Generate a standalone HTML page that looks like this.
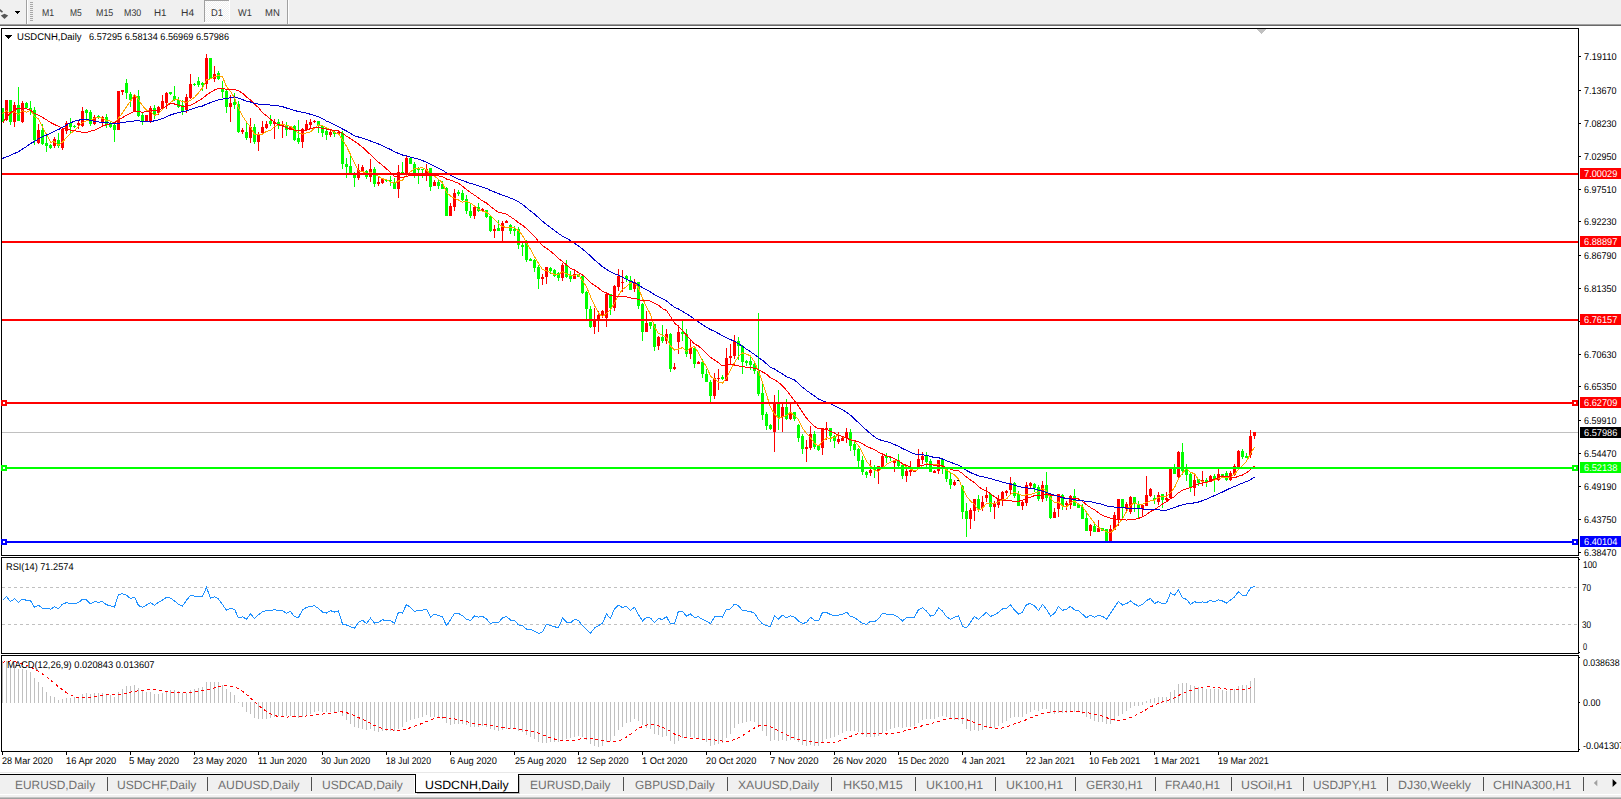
<!DOCTYPE html>
<html><head><meta charset="utf-8"><title>USDCNH,Daily</title><style>
html,body{margin:0;padding:0;background:#fff;}
#root{position:relative;width:1621px;height:799px;overflow:hidden;background:#fff;font-family:"Liberation Sans",sans-serif;}
#root svg{position:absolute;left:0;top:0;}
#root div{position:absolute;white-space:nowrap;line-height:1;transform-origin:0 0;}
.ax{font-size:9.8px;color:#000;height:11px;line-height:11px !important;}
.ttl{font-size:9.8px;color:#000;}
.tb{font-size:9.8px;color:#363636;line-height:12px !important;}
.tab{font-size:12px;color:#707070;line-height:14px !important;}
.tab.act{color:#000;}
</style></head>
<body><div id="root">
<svg width="1621" height="799" viewBox="0 0 1621 799" shape-rendering="crispEdges">
<defs>
<pattern id="dt" width="2" height="2" patternUnits="userSpaceOnUse"><rect width="2" height="2" fill="#f0f0f0"/><rect width="1" height="1" fill="#fff"/><rect x="1" y="1" width="1" height="1" fill="#fff"/></pattern>
<clipPath id="cm"><rect x="2" y="29" width="1576" height="526"/></clipPath>
<clipPath id="cr"><rect x="2" y="558" width="1576" height="95"/></clipPath>
<clipPath id="cd"><rect x="2" y="656" width="1576" height="95"/></clipPath>
</defs>
<g clip-path="url(#cm)">
<rect x="2" y="432" width="1576" height="1" fill="#c0c0c0"/><rect x="2" y="108" width="1" height="14" fill="#00ff00"/><rect x="1" y="108" width="3" height="14" fill="#00ff00"/><rect x="6" y="100" width="1" height="21" fill="#ff0000"/><rect x="5" y="100" width="3" height="20" fill="#ff0000"/><rect x="10" y="100" width="1" height="25" fill="#00ff00"/><rect x="9" y="100" width="3" height="22" fill="#00ff00"/><rect x="14" y="102" width="1" height="25" fill="#ff0000"/><rect x="13" y="105" width="3" height="17" fill="#ff0000"/><rect x="18" y="87" width="1" height="34" fill="#00ff00"/><rect x="17" y="105" width="3" height="16" fill="#00ff00"/><rect x="22" y="101" width="1" height="22" fill="#ff0000"/><rect x="21" y="103" width="3" height="19" fill="#ff0000"/><rect x="26" y="102" width="1" height="7" fill="#00ff00"/><rect x="25" y="103" width="3" height="5" fill="#00ff00"/><rect x="30" y="101" width="1" height="14" fill="#00ff00"/><rect x="29" y="108" width="3" height="2" fill="#00ff00"/><rect x="34" y="107" width="1" height="38" fill="#00ff00"/><rect x="33" y="110" width="3" height="30" fill="#00ff00"/><rect x="38" y="124" width="1" height="20" fill="#ff0000"/><rect x="37" y="130" width="3" height="13" fill="#ff0000"/><rect x="42" y="124" width="1" height="21" fill="#00ff00"/><rect x="41" y="130" width="3" height="14" fill="#00ff00"/><rect x="46" y="136" width="1" height="16" fill="#00ff00"/><rect x="45" y="143" width="3" height="3" fill="#00ff00"/><rect x="50" y="144" width="1" height="5" fill="#00ff00"/><rect x="49" y="145" width="3" height="3" fill="#00ff00"/><rect x="54" y="137" width="1" height="11" fill="#ff0000"/><rect x="53" y="139" width="3" height="7" fill="#ff0000"/><rect x="58" y="133" width="1" height="15" fill="#00ff00"/><rect x="57" y="140" width="3" height="6" fill="#00ff00"/><rect x="62" y="128" width="1" height="22" fill="#ff0000"/><rect x="61" y="129" width="3" height="19" fill="#ff0000"/><rect x="66" y="121" width="1" height="13" fill="#ff0000"/><rect x="65" y="123" width="3" height="8" fill="#ff0000"/><rect x="70" y="118" width="1" height="15" fill="#00ff00"/><rect x="69" y="123" width="3" height="4" fill="#00ff00"/><rect x="74" y="125" width="1" height="3" fill="#00ff00"/><rect x="73" y="126" width="3" height="1" fill="#00ff00"/><rect x="78" y="121" width="1" height="8" fill="#ff0000"/><rect x="77" y="123" width="3" height="2" fill="#ff0000"/><rect x="82" y="107" width="1" height="20" fill="#ff0000"/><rect x="81" y="111" width="3" height="15" fill="#ff0000"/><rect x="86" y="109" width="1" height="10" fill="#00ff00"/><rect x="85" y="110" width="3" height="3" fill="#00ff00"/><rect x="90" y="110" width="1" height="16" fill="#00ff00"/><rect x="89" y="112" width="3" height="12" fill="#00ff00"/><rect x="94" y="115" width="1" height="10" fill="#ff0000"/><rect x="93" y="117" width="3" height="7" fill="#ff0000"/><rect x="98" y="115" width="1" height="4" fill="#00ff00"/><rect x="97" y="116" width="3" height="2" fill="#00ff00"/><rect x="102" y="116" width="1" height="11" fill="#ff0000"/><rect x="101" y="117" width="3" height="6" fill="#ff0000"/><rect x="106" y="114" width="1" height="14" fill="#00ff00"/><rect x="105" y="117" width="3" height="7" fill="#00ff00"/><rect x="110" y="121" width="1" height="7" fill="#00ff00"/><rect x="109" y="123" width="3" height="4" fill="#00ff00"/><rect x="114" y="124" width="1" height="18" fill="#00ff00"/><rect x="113" y="125" width="3" height="5" fill="#00ff00"/><rect x="118" y="91" width="1" height="39" fill="#ff0000"/><rect x="117" y="91" width="3" height="39" fill="#ff0000"/><rect x="122" y="90" width="1" height="5" fill="#ff0000"/><rect x="121" y="90" width="3" height="2" fill="#ff0000"/><rect x="126" y="79" width="1" height="20" fill="#00ff00"/><rect x="125" y="83" width="3" height="10" fill="#00ff00"/><rect x="130" y="92" width="1" height="15" fill="#00ff00"/><rect x="129" y="94" width="3" height="6" fill="#00ff00"/><rect x="134" y="94" width="1" height="18" fill="#ff0000"/><rect x="133" y="96" width="3" height="15" fill="#ff0000"/><rect x="138" y="90" width="1" height="27" fill="#00ff00"/><rect x="137" y="96" width="3" height="20" fill="#00ff00"/><rect x="142" y="113" width="1" height="12" fill="#00ff00"/><rect x="141" y="115" width="3" height="6" fill="#00ff00"/><rect x="146" y="115" width="1" height="7" fill="#ff0000"/><rect x="145" y="115" width="3" height="7" fill="#ff0000"/><rect x="150" y="106" width="1" height="17" fill="#ff0000"/><rect x="149" y="108" width="3" height="14" fill="#ff0000"/><rect x="154" y="105" width="1" height="14" fill="#00ff00"/><rect x="153" y="108" width="3" height="7" fill="#00ff00"/><rect x="158" y="106" width="1" height="9" fill="#ff0000"/><rect x="157" y="107" width="3" height="6" fill="#ff0000"/><rect x="162" y="95" width="1" height="14" fill="#ff0000"/><rect x="161" y="101" width="3" height="7" fill="#ff0000"/><rect x="166" y="92" width="1" height="17" fill="#ff0000"/><rect x="165" y="93" width="3" height="10" fill="#ff0000"/><rect x="170" y="92" width="1" height="3" fill="#00ff00"/><rect x="169" y="92" width="3" height="2" fill="#00ff00"/><rect x="174" y="86" width="1" height="15" fill="#00ff00"/><rect x="173" y="96" width="3" height="4" fill="#00ff00"/><rect x="178" y="97" width="1" height="11" fill="#00ff00"/><rect x="177" y="100" width="3" height="7" fill="#00ff00"/><rect x="182" y="100" width="1" height="15" fill="#00ff00"/><rect x="181" y="105" width="3" height="6" fill="#00ff00"/><rect x="186" y="94" width="1" height="19" fill="#ff0000"/><rect x="185" y="97" width="3" height="13" fill="#ff0000"/><rect x="190" y="74" width="1" height="25" fill="#ff0000"/><rect x="189" y="84" width="3" height="14" fill="#ff0000"/><rect x="194" y="83" width="1" height="3" fill="#00ff00"/><rect x="193" y="84" width="3" height="1" fill="#00ff00"/><rect x="198" y="77" width="1" height="10" fill="#00ff00"/><rect x="197" y="81" width="3" height="4" fill="#00ff00"/><rect x="202" y="82" width="1" height="9" fill="#00ff00"/><rect x="201" y="83" width="3" height="2" fill="#00ff00"/><rect x="206" y="54" width="1" height="35" fill="#ff0000"/><rect x="205" y="58" width="3" height="26" fill="#ff0000"/><rect x="210" y="58" width="1" height="21" fill="#00ff00"/><rect x="209" y="58" width="3" height="21" fill="#00ff00"/><rect x="214" y="66" width="1" height="16" fill="#ff0000"/><rect x="213" y="74" width="3" height="5" fill="#ff0000"/><rect x="218" y="71" width="1" height="9" fill="#00ff00"/><rect x="217" y="73" width="3" height="6" fill="#00ff00"/><rect x="222" y="81" width="1" height="17" fill="#00ff00"/><rect x="221" y="89" width="3" height="3" fill="#00ff00"/><rect x="226" y="90" width="1" height="23" fill="#00ff00"/><rect x="225" y="91" width="3" height="16" fill="#00ff00"/><rect x="230" y="95" width="1" height="27" fill="#ff0000"/><rect x="229" y="103" width="3" height="4" fill="#ff0000"/><rect x="234" y="93" width="1" height="16" fill="#00ff00"/><rect x="233" y="102" width="3" height="3" fill="#00ff00"/><rect x="238" y="101" width="1" height="32" fill="#00ff00"/><rect x="237" y="104" width="3" height="28" fill="#00ff00"/><rect x="242" y="128" width="1" height="6" fill="#ff0000"/><rect x="241" y="130" width="3" height="2" fill="#ff0000"/><rect x="246" y="122" width="1" height="18" fill="#00ff00"/><rect x="245" y="132" width="3" height="6" fill="#00ff00"/><rect x="250" y="118" width="1" height="25" fill="#ff0000"/><rect x="249" y="127" width="3" height="11" fill="#ff0000"/><rect x="254" y="124" width="1" height="20" fill="#00ff00"/><rect x="253" y="127" width="3" height="15" fill="#00ff00"/><rect x="258" y="132" width="1" height="19" fill="#ff0000"/><rect x="257" y="134" width="3" height="8" fill="#ff0000"/><rect x="262" y="121" width="1" height="14" fill="#ff0000"/><rect x="261" y="127" width="3" height="6" fill="#ff0000"/><rect x="266" y="121" width="1" height="8" fill="#ff0000"/><rect x="265" y="124" width="3" height="4" fill="#ff0000"/><rect x="270" y="115" width="1" height="11" fill="#00ff00"/><rect x="269" y="121" width="3" height="3" fill="#00ff00"/><rect x="274" y="119" width="1" height="20" fill="#ff0000"/><rect x="273" y="122" width="3" height="2" fill="#ff0000"/><rect x="278" y="119" width="1" height="10" fill="#00ff00"/><rect x="277" y="122" width="3" height="2" fill="#00ff00"/><rect x="282" y="121" width="1" height="17" fill="#ff0000"/><rect x="281" y="125" width="3" height="1" fill="#ff0000"/><rect x="286" y="122" width="1" height="14" fill="#00ff00"/><rect x="285" y="125" width="3" height="5" fill="#00ff00"/><rect x="290" y="126" width="1" height="4" fill="#ff0000"/><rect x="289" y="127" width="3" height="3" fill="#ff0000"/><rect x="294" y="125" width="1" height="16" fill="#00ff00"/><rect x="293" y="126" width="3" height="14" fill="#00ff00"/><rect x="298" y="120" width="1" height="24" fill="#00ff00"/><rect x="297" y="138" width="3" height="4" fill="#00ff00"/><rect x="302" y="128" width="1" height="20" fill="#ff0000"/><rect x="301" y="129" width="3" height="13" fill="#ff0000"/><rect x="306" y="120" width="1" height="11" fill="#ff0000"/><rect x="305" y="124" width="3" height="6" fill="#ff0000"/><rect x="310" y="119" width="1" height="9" fill="#ff0000"/><rect x="309" y="122" width="3" height="3" fill="#ff0000"/><rect x="314" y="120" width="1" height="3" fill="#ff0000"/><rect x="313" y="121" width="3" height="1" fill="#ff0000"/><rect x="318" y="121" width="1" height="12" fill="#00ff00"/><rect x="317" y="121" width="3" height="5" fill="#00ff00"/><rect x="322" y="125" width="1" height="12" fill="#00ff00"/><rect x="321" y="126" width="3" height="7" fill="#00ff00"/><rect x="326" y="128" width="1" height="12" fill="#00ff00"/><rect x="325" y="131" width="3" height="4" fill="#00ff00"/><rect x="330" y="130" width="1" height="7" fill="#ff0000"/><rect x="329" y="132" width="3" height="3" fill="#ff0000"/><rect x="334" y="131" width="1" height="6" fill="#00ff00"/><rect x="333" y="132" width="3" height="2" fill="#00ff00"/><rect x="338" y="132" width="1" height="3" fill="#ff0000"/><rect x="337" y="132" width="3" height="2" fill="#ff0000"/><rect x="342" y="131" width="1" height="38" fill="#00ff00"/><rect x="341" y="133" width="3" height="31" fill="#00ff00"/><rect x="346" y="158" width="1" height="20" fill="#00ff00"/><rect x="345" y="164" width="3" height="3" fill="#00ff00"/><rect x="350" y="156" width="1" height="18" fill="#00ff00"/><rect x="349" y="166" width="3" height="7" fill="#00ff00"/><rect x="354" y="172" width="1" height="15" fill="#00ff00"/><rect x="353" y="175" width="3" height="3" fill="#00ff00"/><rect x="358" y="164" width="1" height="16" fill="#ff0000"/><rect x="357" y="170" width="3" height="8" fill="#ff0000"/><rect x="362" y="165" width="1" height="7" fill="#ff0000"/><rect x="361" y="167" width="3" height="4" fill="#ff0000"/><rect x="366" y="170" width="1" height="9" fill="#00ff00"/><rect x="365" y="171" width="3" height="6" fill="#00ff00"/><rect x="370" y="159" width="1" height="23" fill="#ff0000"/><rect x="369" y="169" width="3" height="8" fill="#ff0000"/><rect x="374" y="167" width="1" height="20" fill="#00ff00"/><rect x="373" y="169" width="3" height="15" fill="#00ff00"/><rect x="378" y="176" width="1" height="10" fill="#ff0000"/><rect x="377" y="182" width="3" height="2" fill="#ff0000"/><rect x="382" y="178" width="1" height="6" fill="#ff0000"/><rect x="381" y="179" width="3" height="4" fill="#ff0000"/><rect x="386" y="179" width="1" height="3" fill="#00ff00"/><rect x="385" y="180" width="3" height="1" fill="#00ff00"/><rect x="390" y="176" width="1" height="10" fill="#00ff00"/><rect x="389" y="180" width="3" height="1" fill="#00ff00"/><rect x="394" y="178" width="1" height="11" fill="#00ff00"/><rect x="393" y="183" width="3" height="6" fill="#00ff00"/><rect x="398" y="165" width="1" height="33" fill="#ff0000"/><rect x="397" y="172" width="3" height="17" fill="#ff0000"/><rect x="402" y="162" width="1" height="13" fill="#00ff00"/><rect x="401" y="172" width="3" height="2" fill="#00ff00"/><rect x="406" y="156" width="1" height="19" fill="#ff0000"/><rect x="405" y="158" width="3" height="16" fill="#ff0000"/><rect x="410" y="158" width="1" height="6" fill="#00ff00"/><rect x="409" y="158" width="3" height="6" fill="#00ff00"/><rect x="414" y="162" width="1" height="16" fill="#00ff00"/><rect x="413" y="164" width="3" height="9" fill="#00ff00"/><rect x="418" y="167" width="1" height="17" fill="#00ff00"/><rect x="417" y="169" width="3" height="1" fill="#00ff00"/><rect x="422" y="169" width="1" height="9" fill="#00ff00"/><rect x="421" y="169" width="3" height="1" fill="#00ff00"/><rect x="426" y="164" width="1" height="17" fill="#ff0000"/><rect x="425" y="169" width="3" height="4" fill="#ff0000"/><rect x="430" y="168" width="1" height="23" fill="#00ff00"/><rect x="429" y="168" width="3" height="19" fill="#00ff00"/><rect x="434" y="180" width="1" height="6" fill="#ff0000"/><rect x="433" y="182" width="3" height="4" fill="#ff0000"/><rect x="438" y="179" width="1" height="10" fill="#00ff00"/><rect x="437" y="182" width="3" height="4" fill="#00ff00"/><rect x="442" y="181" width="1" height="8" fill="#00ff00"/><rect x="441" y="184" width="3" height="5" fill="#00ff00"/><rect x="446" y="187" width="1" height="29" fill="#00ff00"/><rect x="445" y="188" width="3" height="28" fill="#00ff00"/><rect x="450" y="203" width="1" height="13" fill="#ff0000"/><rect x="449" y="206" width="3" height="10" fill="#ff0000"/><rect x="454" y="189" width="1" height="22" fill="#ff0000"/><rect x="453" y="193" width="3" height="14" fill="#ff0000"/><rect x="458" y="190" width="1" height="6" fill="#00ff00"/><rect x="457" y="192" width="3" height="2" fill="#00ff00"/><rect x="462" y="190" width="1" height="11" fill="#00ff00"/><rect x="461" y="193" width="3" height="7" fill="#00ff00"/><rect x="466" y="195" width="1" height="19" fill="#00ff00"/><rect x="465" y="199" width="3" height="12" fill="#00ff00"/><rect x="470" y="203" width="1" height="15" fill="#00ff00"/><rect x="469" y="211" width="3" height="5" fill="#00ff00"/><rect x="474" y="206" width="1" height="13" fill="#ff0000"/><rect x="473" y="207" width="3" height="9" fill="#ff0000"/><rect x="478" y="203" width="1" height="9" fill="#00ff00"/><rect x="477" y="207" width="3" height="4" fill="#00ff00"/><rect x="482" y="208" width="1" height="3" fill="#ff0000"/><rect x="481" y="209" width="3" height="2" fill="#ff0000"/><rect x="486" y="210" width="1" height="8" fill="#00ff00"/><rect x="485" y="210" width="3" height="7" fill="#00ff00"/><rect x="490" y="216" width="1" height="16" fill="#00ff00"/><rect x="489" y="216" width="3" height="15" fill="#00ff00"/><rect x="494" y="225" width="1" height="13" fill="#ff0000"/><rect x="493" y="229" width="3" height="2" fill="#ff0000"/><rect x="498" y="220" width="1" height="11" fill="#00ff00"/><rect x="497" y="228" width="3" height="3" fill="#00ff00"/><rect x="502" y="221" width="1" height="20" fill="#ff0000"/><rect x="501" y="223" width="3" height="8" fill="#ff0000"/><rect x="506" y="220" width="1" height="3" fill="#ff0000"/><rect x="505" y="221" width="3" height="2" fill="#ff0000"/><rect x="510" y="224" width="1" height="10" fill="#00ff00"/><rect x="509" y="225" width="3" height="6" fill="#00ff00"/><rect x="514" y="226" width="1" height="10" fill="#00ff00"/><rect x="513" y="229" width="3" height="2" fill="#00ff00"/><rect x="518" y="227" width="1" height="22" fill="#00ff00"/><rect x="517" y="229" width="3" height="16" fill="#00ff00"/><rect x="522" y="243" width="1" height="13" fill="#00ff00"/><rect x="521" y="245" width="3" height="2" fill="#00ff00"/><rect x="526" y="240" width="1" height="22" fill="#00ff00"/><rect x="525" y="242" width="3" height="18" fill="#00ff00"/><rect x="530" y="258" width="1" height="3" fill="#00ff00"/><rect x="529" y="259" width="3" height="2" fill="#00ff00"/><rect x="534" y="259" width="1" height="13" fill="#00ff00"/><rect x="533" y="260" width="3" height="8" fill="#00ff00"/><rect x="538" y="265" width="1" height="24" fill="#00ff00"/><rect x="537" y="267" width="3" height="12" fill="#00ff00"/><rect x="542" y="274" width="1" height="11" fill="#ff0000"/><rect x="541" y="277" width="3" height="2" fill="#ff0000"/><rect x="546" y="267" width="1" height="17" fill="#ff0000"/><rect x="545" y="267" width="3" height="10" fill="#ff0000"/><rect x="550" y="267" width="1" height="7" fill="#00ff00"/><rect x="549" y="268" width="3" height="3" fill="#00ff00"/><rect x="554" y="269" width="1" height="8" fill="#00ff00"/><rect x="553" y="270" width="3" height="6" fill="#00ff00"/><rect x="558" y="272" width="1" height="9" fill="#00ff00"/><rect x="557" y="273" width="3" height="5" fill="#00ff00"/><rect x="562" y="263" width="1" height="18" fill="#ff0000"/><rect x="561" y="265" width="3" height="13" fill="#ff0000"/><rect x="566" y="260" width="1" height="18" fill="#00ff00"/><rect x="565" y="265" width="3" height="12" fill="#00ff00"/><rect x="570" y="271" width="1" height="11" fill="#00ff00"/><rect x="569" y="276" width="3" height="3" fill="#00ff00"/><rect x="574" y="269" width="1" height="10" fill="#ff0000"/><rect x="573" y="274" width="3" height="5" fill="#ff0000"/><rect x="578" y="274" width="1" height="3" fill="#00ff00"/><rect x="577" y="274" width="3" height="3" fill="#00ff00"/><rect x="582" y="275" width="1" height="19" fill="#00ff00"/><rect x="581" y="276" width="3" height="17" fill="#00ff00"/><rect x="586" y="291" width="1" height="28" fill="#00ff00"/><rect x="585" y="292" width="3" height="17" fill="#00ff00"/><rect x="590" y="306" width="1" height="22" fill="#00ff00"/><rect x="589" y="309" width="3" height="18" fill="#00ff00"/><rect x="594" y="308" width="1" height="26" fill="#ff0000"/><rect x="593" y="319" width="3" height="8" fill="#ff0000"/><rect x="598" y="311" width="1" height="21" fill="#ff0000"/><rect x="597" y="315" width="3" height="5" fill="#ff0000"/><rect x="602" y="310" width="1" height="8" fill="#ff0000"/><rect x="601" y="311" width="3" height="5" fill="#ff0000"/><rect x="606" y="292" width="1" height="35" fill="#ff0000"/><rect x="605" y="294" width="3" height="24" fill="#ff0000"/><rect x="610" y="294" width="1" height="21" fill="#00ff00"/><rect x="609" y="294" width="3" height="14" fill="#00ff00"/><rect x="614" y="285" width="1" height="26" fill="#ff0000"/><rect x="613" y="286" width="3" height="22" fill="#ff0000"/><rect x="618" y="269" width="1" height="22" fill="#ff0000"/><rect x="617" y="276" width="3" height="11" fill="#ff0000"/><rect x="622" y="270" width="1" height="22" fill="#ff0000"/><rect x="621" y="282" width="3" height="1" fill="#ff0000"/><rect x="626" y="275" width="1" height="7" fill="#00ff00"/><rect x="625" y="276" width="3" height="3" fill="#00ff00"/><rect x="630" y="276" width="1" height="14" fill="#00ff00"/><rect x="629" y="280" width="3" height="10" fill="#00ff00"/><rect x="634" y="279" width="1" height="13" fill="#ff0000"/><rect x="633" y="282" width="3" height="7" fill="#ff0000"/><rect x="638" y="282" width="1" height="27" fill="#00ff00"/><rect x="637" y="282" width="3" height="24" fill="#00ff00"/><rect x="642" y="303" width="1" height="38" fill="#00ff00"/><rect x="641" y="304" width="3" height="28" fill="#00ff00"/><rect x="646" y="311" width="1" height="21" fill="#ff0000"/><rect x="645" y="323" width="3" height="9" fill="#ff0000"/><rect x="650" y="322" width="1" height="7" fill="#00ff00"/><rect x="649" y="322" width="3" height="4" fill="#00ff00"/><rect x="654" y="324" width="1" height="27" fill="#00ff00"/><rect x="653" y="324" width="3" height="23" fill="#00ff00"/><rect x="658" y="336" width="1" height="14" fill="#ff0000"/><rect x="657" y="337" width="3" height="9" fill="#ff0000"/><rect x="662" y="325" width="1" height="18" fill="#00ff00"/><rect x="661" y="337" width="3" height="4" fill="#00ff00"/><rect x="666" y="329" width="1" height="15" fill="#ff0000"/><rect x="665" y="334" width="3" height="7" fill="#ff0000"/><rect x="670" y="333" width="1" height="39" fill="#00ff00"/><rect x="669" y="334" width="3" height="35" fill="#00ff00"/><rect x="674" y="363" width="1" height="7" fill="#ff0000"/><rect x="673" y="367" width="3" height="2" fill="#ff0000"/><rect x="678" y="325" width="1" height="29" fill="#ff0000"/><rect x="677" y="332" width="3" height="10" fill="#ff0000"/><rect x="682" y="321" width="1" height="20" fill="#00ff00"/><rect x="681" y="332" width="3" height="2" fill="#00ff00"/><rect x="686" y="329" width="1" height="28" fill="#00ff00"/><rect x="685" y="334" width="3" height="20" fill="#00ff00"/><rect x="690" y="340" width="1" height="19" fill="#ff0000"/><rect x="689" y="348" width="3" height="6" fill="#ff0000"/><rect x="694" y="347" width="1" height="21" fill="#00ff00"/><rect x="693" y="348" width="3" height="16" fill="#00ff00"/><rect x="698" y="361" width="1" height="3" fill="#ff0000"/><rect x="697" y="362" width="3" height="2" fill="#ff0000"/><rect x="702" y="359" width="1" height="19" fill="#00ff00"/><rect x="701" y="362" width="3" height="12" fill="#00ff00"/><rect x="706" y="369" width="1" height="13" fill="#00ff00"/><rect x="705" y="374" width="3" height="8" fill="#00ff00"/><rect x="710" y="380" width="1" height="22" fill="#00ff00"/><rect x="709" y="382" width="3" height="14" fill="#00ff00"/><rect x="714" y="373" width="1" height="26" fill="#ff0000"/><rect x="713" y="378" width="3" height="18" fill="#ff0000"/><rect x="718" y="369" width="1" height="21" fill="#ff0000"/><rect x="717" y="378" width="3" height="1" fill="#ff0000"/><rect x="722" y="375" width="1" height="5" fill="#00ff00"/><rect x="721" y="377" width="3" height="2" fill="#00ff00"/><rect x="726" y="348" width="1" height="33" fill="#ff0000"/><rect x="725" y="358" width="3" height="23" fill="#ff0000"/><rect x="730" y="344" width="1" height="21" fill="#ff0000"/><rect x="729" y="356" width="3" height="2" fill="#ff0000"/><rect x="734" y="335" width="1" height="24" fill="#ff0000"/><rect x="733" y="341" width="3" height="15" fill="#ff0000"/><rect x="738" y="337" width="1" height="23" fill="#00ff00"/><rect x="737" y="341" width="3" height="5" fill="#00ff00"/><rect x="742" y="345" width="1" height="29" fill="#00ff00"/><rect x="741" y="346" width="3" height="16" fill="#00ff00"/><rect x="746" y="360" width="1" height="6" fill="#00ff00"/><rect x="745" y="361" width="3" height="2" fill="#00ff00"/><rect x="750" y="356" width="1" height="14" fill="#00ff00"/><rect x="749" y="361" width="3" height="4" fill="#00ff00"/><rect x="754" y="361" width="1" height="13" fill="#00ff00"/><rect x="753" y="364" width="3" height="7" fill="#00ff00"/><rect x="758" y="313" width="1" height="83" fill="#00ff00"/><rect x="757" y="371" width="3" height="23" fill="#00ff00"/><rect x="762" y="383" width="1" height="37" fill="#00ff00"/><rect x="761" y="393" width="3" height="22" fill="#00ff00"/><rect x="766" y="412" width="1" height="18" fill="#00ff00"/><rect x="765" y="414" width="3" height="12" fill="#00ff00"/><rect x="770" y="424" width="1" height="6" fill="#00ff00"/><rect x="769" y="425" width="3" height="4" fill="#00ff00"/><rect x="774" y="395" width="1" height="57" fill="#ff0000"/><rect x="773" y="403" width="3" height="29" fill="#ff0000"/><rect x="778" y="390" width="1" height="40" fill="#00ff00"/><rect x="777" y="404" width="3" height="13" fill="#00ff00"/><rect x="782" y="404" width="1" height="28" fill="#ff0000"/><rect x="781" y="407" width="3" height="10" fill="#ff0000"/><rect x="786" y="399" width="1" height="21" fill="#00ff00"/><rect x="785" y="407" width="3" height="12" fill="#00ff00"/><rect x="790" y="404" width="1" height="16" fill="#ff0000"/><rect x="789" y="413" width="3" height="6" fill="#ff0000"/><rect x="794" y="412" width="1" height="9" fill="#00ff00"/><rect x="793" y="412" width="3" height="7" fill="#00ff00"/><rect x="798" y="424" width="1" height="18" fill="#00ff00"/><rect x="797" y="425" width="3" height="13" fill="#00ff00"/><rect x="802" y="434" width="1" height="20" fill="#00ff00"/><rect x="801" y="436" width="3" height="13" fill="#00ff00"/><rect x="806" y="440" width="1" height="22" fill="#ff0000"/><rect x="805" y="447" width="3" height="2" fill="#ff0000"/><rect x="810" y="426" width="1" height="24" fill="#ff0000"/><rect x="809" y="434" width="3" height="14" fill="#ff0000"/><rect x="814" y="431" width="1" height="18" fill="#00ff00"/><rect x="813" y="434" width="3" height="13" fill="#00ff00"/><rect x="818" y="445" width="1" height="6" fill="#00ff00"/><rect x="817" y="446" width="3" height="4" fill="#00ff00"/><rect x="822" y="428" width="1" height="27" fill="#ff0000"/><rect x="821" y="428" width="3" height="20" fill="#ff0000"/><rect x="826" y="422" width="1" height="18" fill="#ff0000"/><rect x="825" y="428" width="3" height="2" fill="#ff0000"/><rect x="830" y="428" width="1" height="14" fill="#00ff00"/><rect x="829" y="428" width="3" height="8" fill="#00ff00"/><rect x="834" y="435" width="1" height="13" fill="#00ff00"/><rect x="833" y="436" width="3" height="5" fill="#00ff00"/><rect x="838" y="432" width="1" height="12" fill="#ff0000"/><rect x="837" y="439" width="3" height="3" fill="#ff0000"/><rect x="842" y="437" width="1" height="4" fill="#ff0000"/><rect x="841" y="438" width="3" height="3" fill="#ff0000"/><rect x="846" y="428" width="1" height="15" fill="#ff0000"/><rect x="845" y="432" width="3" height="6" fill="#ff0000"/><rect x="850" y="429" width="1" height="22" fill="#00ff00"/><rect x="849" y="432" width="3" height="14" fill="#00ff00"/><rect x="854" y="442" width="1" height="14" fill="#00ff00"/><rect x="853" y="444" width="3" height="6" fill="#00ff00"/><rect x="858" y="448" width="1" height="19" fill="#00ff00"/><rect x="857" y="449" width="3" height="12" fill="#00ff00"/><rect x="862" y="456" width="1" height="19" fill="#00ff00"/><rect x="861" y="460" width="3" height="12" fill="#00ff00"/><rect x="866" y="471" width="1" height="7" fill="#00ff00"/><rect x="865" y="472" width="3" height="3" fill="#00ff00"/><rect x="870" y="460" width="1" height="16" fill="#ff0000"/><rect x="869" y="470" width="3" height="3" fill="#ff0000"/><rect x="874" y="465" width="1" height="13" fill="#00ff00"/><rect x="873" y="469" width="3" height="1" fill="#00ff00"/><rect x="878" y="466" width="1" height="18" fill="#ff0000"/><rect x="877" y="466" width="3" height="5" fill="#ff0000"/><rect x="882" y="453" width="1" height="14" fill="#ff0000"/><rect x="881" y="456" width="3" height="11" fill="#ff0000"/><rect x="886" y="453" width="1" height="10" fill="#00ff00"/><rect x="885" y="456" width="3" height="2" fill="#00ff00"/><rect x="890" y="456" width="1" height="5" fill="#00ff00"/><rect x="889" y="457" width="3" height="1" fill="#00ff00"/><rect x="894" y="460" width="1" height="12" fill="#ff0000"/><rect x="893" y="461" width="3" height="2" fill="#ff0000"/><rect x="898" y="454" width="1" height="13" fill="#00ff00"/><rect x="897" y="461" width="3" height="5" fill="#00ff00"/><rect x="902" y="463" width="1" height="16" fill="#00ff00"/><rect x="901" y="465" width="3" height="11" fill="#00ff00"/><rect x="906" y="469" width="1" height="13" fill="#ff0000"/><rect x="905" y="471" width="3" height="5" fill="#ff0000"/><rect x="910" y="461" width="1" height="15" fill="#ff0000"/><rect x="909" y="470" width="3" height="2" fill="#ff0000"/><rect x="914" y="470" width="1" height="2" fill="#ff0000"/><rect x="913" y="470" width="3" height="2" fill="#ff0000"/><rect x="918" y="449" width="1" height="18" fill="#ff0000"/><rect x="917" y="459" width="3" height="8" fill="#ff0000"/><rect x="922" y="452" width="1" height="12" fill="#ff0000"/><rect x="921" y="456" width="3" height="4" fill="#ff0000"/><rect x="926" y="452" width="1" height="17" fill="#00ff00"/><rect x="925" y="456" width="3" height="6" fill="#00ff00"/><rect x="930" y="459" width="1" height="13" fill="#00ff00"/><rect x="929" y="461" width="3" height="11" fill="#00ff00"/><rect x="934" y="470" width="1" height="3" fill="#ff0000"/><rect x="933" y="471" width="3" height="2" fill="#ff0000"/><rect x="938" y="460" width="1" height="14" fill="#ff0000"/><rect x="937" y="460" width="3" height="11" fill="#ff0000"/><rect x="942" y="459" width="1" height="15" fill="#00ff00"/><rect x="941" y="459" width="3" height="7" fill="#00ff00"/><rect x="946" y="468" width="1" height="14" fill="#00ff00"/><rect x="945" y="469" width="3" height="10" fill="#00ff00"/><rect x="950" y="472" width="1" height="17" fill="#00ff00"/><rect x="949" y="479" width="3" height="6" fill="#00ff00"/><rect x="954" y="480" width="1" height="6" fill="#ff0000"/><rect x="953" y="482" width="3" height="3" fill="#ff0000"/><rect x="958" y="480" width="1" height="1" fill="#000000"/><rect x="957" y="480" width="3" height="1" fill="#000000"/><rect x="962" y="485" width="1" height="34" fill="#00ff00"/><rect x="961" y="486" width="3" height="26" fill="#00ff00"/><rect x="966" y="503" width="1" height="34" fill="#00ff00"/><rect x="965" y="511" width="3" height="8" fill="#00ff00"/><rect x="970" y="508" width="1" height="21" fill="#ff0000"/><rect x="969" y="510" width="3" height="9" fill="#ff0000"/><rect x="974" y="499" width="1" height="22" fill="#ff0000"/><rect x="973" y="499" width="3" height="12" fill="#ff0000"/><rect x="978" y="495" width="1" height="17" fill="#00ff00"/><rect x="977" y="499" width="3" height="10" fill="#00ff00"/><rect x="982" y="496" width="1" height="15" fill="#ff0000"/><rect x="981" y="502" width="3" height="6" fill="#ff0000"/><rect x="986" y="487" width="1" height="15" fill="#ff0000"/><rect x="985" y="495" width="3" height="3" fill="#ff0000"/><rect x="990" y="493" width="1" height="19" fill="#00ff00"/><rect x="989" y="494" width="3" height="13" fill="#00ff00"/><rect x="994" y="501" width="1" height="18" fill="#ff0000"/><rect x="993" y="504" width="3" height="3" fill="#ff0000"/><rect x="998" y="495" width="1" height="13" fill="#ff0000"/><rect x="997" y="499" width="3" height="6" fill="#ff0000"/><rect x="1002" y="491" width="1" height="15" fill="#ff0000"/><rect x="1001" y="492" width="3" height="7" fill="#ff0000"/><rect x="1006" y="490" width="1" height="6" fill="#ff0000"/><rect x="1005" y="491" width="3" height="2" fill="#ff0000"/><rect x="1010" y="477" width="1" height="17" fill="#ff0000"/><rect x="1009" y="483" width="3" height="7" fill="#ff0000"/><rect x="1014" y="482" width="1" height="16" fill="#00ff00"/><rect x="1013" y="483" width="3" height="13" fill="#00ff00"/><rect x="1018" y="491" width="1" height="15" fill="#00ff00"/><rect x="1017" y="494" width="3" height="12" fill="#00ff00"/><rect x="1022" y="501" width="1" height="9" fill="#ff0000"/><rect x="1021" y="502" width="3" height="4" fill="#ff0000"/><rect x="1026" y="482" width="1" height="24" fill="#ff0000"/><rect x="1025" y="485" width="3" height="18" fill="#ff0000"/><rect x="1030" y="482" width="1" height="6" fill="#ff0000"/><rect x="1029" y="483" width="3" height="3" fill="#ff0000"/><rect x="1034" y="483" width="1" height="9" fill="#00ff00"/><rect x="1033" y="484" width="3" height="4" fill="#00ff00"/><rect x="1038" y="485" width="1" height="16" fill="#00ff00"/><rect x="1037" y="487" width="3" height="12" fill="#00ff00"/><rect x="1042" y="481" width="1" height="21" fill="#ff0000"/><rect x="1041" y="485" width="3" height="14" fill="#ff0000"/><rect x="1046" y="472" width="1" height="29" fill="#00ff00"/><rect x="1045" y="485" width="3" height="13" fill="#00ff00"/><rect x="1050" y="494" width="1" height="25" fill="#00ff00"/><rect x="1049" y="494" width="3" height="24" fill="#00ff00"/><rect x="1054" y="508" width="1" height="10" fill="#ff0000"/><rect x="1053" y="512" width="3" height="6" fill="#ff0000"/><rect x="1058" y="494" width="1" height="23" fill="#ff0000"/><rect x="1057" y="494" width="3" height="15" fill="#ff0000"/><rect x="1062" y="494" width="1" height="16" fill="#00ff00"/><rect x="1061" y="495" width="3" height="11" fill="#00ff00"/><rect x="1066" y="501" width="1" height="9" fill="#ff0000"/><rect x="1065" y="503" width="3" height="2" fill="#ff0000"/><rect x="1070" y="495" width="1" height="14" fill="#ff0000"/><rect x="1069" y="496" width="3" height="9" fill="#ff0000"/><rect x="1074" y="489" width="1" height="17" fill="#00ff00"/><rect x="1073" y="496" width="3" height="10" fill="#00ff00"/><rect x="1078" y="503" width="1" height="5" fill="#00ff00"/><rect x="1077" y="504" width="3" height="4" fill="#00ff00"/><rect x="1082" y="504" width="1" height="15" fill="#00ff00"/><rect x="1081" y="507" width="3" height="12" fill="#00ff00"/><rect x="1086" y="513" width="1" height="18" fill="#00ff00"/><rect x="1085" y="518" width="3" height="13" fill="#00ff00"/><rect x="1090" y="524" width="1" height="12" fill="#ff0000"/><rect x="1089" y="525" width="3" height="6" fill="#ff0000"/><rect x="1094" y="522" width="1" height="10" fill="#00ff00"/><rect x="1093" y="526" width="3" height="6" fill="#00ff00"/><rect x="1098" y="520" width="1" height="12" fill="#ff0000"/><rect x="1097" y="528" width="3" height="4" fill="#ff0000"/><rect x="1102" y="528" width="1" height="3" fill="#00ff00"/><rect x="1101" y="528" width="3" height="3" fill="#00ff00"/><rect x="1106" y="529" width="1" height="12" fill="#00ff00"/><rect x="1105" y="529" width="3" height="12" fill="#00ff00"/><rect x="1110" y="525" width="1" height="16" fill="#ff0000"/><rect x="1109" y="529" width="3" height="12" fill="#ff0000"/><rect x="1114" y="512" width="1" height="18" fill="#ff0000"/><rect x="1113" y="515" width="3" height="15" fill="#ff0000"/><rect x="1118" y="499" width="1" height="27" fill="#ff0000"/><rect x="1117" y="499" width="3" height="20" fill="#ff0000"/><rect x="1122" y="499" width="1" height="20" fill="#00ff00"/><rect x="1121" y="499" width="3" height="9" fill="#00ff00"/><rect x="1126" y="502" width="1" height="10" fill="#ff0000"/><rect x="1125" y="504" width="3" height="5" fill="#ff0000"/><rect x="1130" y="496" width="1" height="18" fill="#ff0000"/><rect x="1129" y="497" width="3" height="15" fill="#ff0000"/><rect x="1134" y="497" width="1" height="15" fill="#00ff00"/><rect x="1133" y="497" width="3" height="7" fill="#00ff00"/><rect x="1138" y="501" width="1" height="17" fill="#00ff00"/><rect x="1137" y="504" width="3" height="5" fill="#00ff00"/><rect x="1142" y="504" width="1" height="12" fill="#ff0000"/><rect x="1141" y="505" width="3" height="4" fill="#ff0000"/><rect x="1146" y="476" width="1" height="30" fill="#ff0000"/><rect x="1145" y="495" width="3" height="11" fill="#ff0000"/><rect x="1150" y="488" width="1" height="9" fill="#ff0000"/><rect x="1149" y="489" width="3" height="7" fill="#ff0000"/><rect x="1154" y="495" width="1" height="9" fill="#00ff00"/><rect x="1153" y="498" width="3" height="2" fill="#00ff00"/><rect x="1158" y="492" width="1" height="13" fill="#ff0000"/><rect x="1157" y="495" width="3" height="7" fill="#ff0000"/><rect x="1162" y="494" width="1" height="14" fill="#00ff00"/><rect x="1161" y="494" width="3" height="6" fill="#00ff00"/><rect x="1166" y="492" width="1" height="9" fill="#ff0000"/><rect x="1165" y="498" width="3" height="2" fill="#ff0000"/><rect x="1170" y="469" width="1" height="29" fill="#ff0000"/><rect x="1169" y="469" width="3" height="29" fill="#ff0000"/><rect x="1174" y="464" width="1" height="10" fill="#00ff00"/><rect x="1173" y="469" width="3" height="5" fill="#00ff00"/><rect x="1178" y="451" width="1" height="27" fill="#ff0000"/><rect x="1177" y="452" width="3" height="25" fill="#ff0000"/><rect x="1182" y="443" width="1" height="32" fill="#00ff00"/><rect x="1181" y="452" width="3" height="19" fill="#00ff00"/><rect x="1186" y="464" width="1" height="17" fill="#00ff00"/><rect x="1185" y="468" width="3" height="7" fill="#00ff00"/><rect x="1190" y="472" width="1" height="20" fill="#00ff00"/><rect x="1189" y="474" width="3" height="14" fill="#00ff00"/><rect x="1194" y="474" width="1" height="22" fill="#ff0000"/><rect x="1193" y="480" width="3" height="8" fill="#ff0000"/><rect x="1198" y="479" width="1" height="7" fill="#00ff00"/><rect x="1197" y="479" width="3" height="4" fill="#00ff00"/><rect x="1202" y="471" width="1" height="15" fill="#ff0000"/><rect x="1201" y="480" width="3" height="2" fill="#ff0000"/><rect x="1206" y="478" width="1" height="9" fill="#00ff00"/><rect x="1205" y="480" width="3" height="2" fill="#00ff00"/><rect x="1210" y="475" width="1" height="7" fill="#ff0000"/><rect x="1209" y="476" width="3" height="6" fill="#ff0000"/><rect x="1214" y="474" width="1" height="18" fill="#00ff00"/><rect x="1213" y="476" width="3" height="3" fill="#00ff00"/><rect x="1218" y="469" width="1" height="12" fill="#ff0000"/><rect x="1217" y="474" width="3" height="6" fill="#ff0000"/><rect x="1222" y="474" width="1" height="4" fill="#00ff00"/><rect x="1221" y="474" width="3" height="2" fill="#00ff00"/><rect x="1226" y="471" width="1" height="10" fill="#00ff00"/><rect x="1225" y="473" width="3" height="7" fill="#00ff00"/><rect x="1230" y="471" width="1" height="10" fill="#ff0000"/><rect x="1229" y="473" width="3" height="7" fill="#ff0000"/><rect x="1234" y="464" width="1" height="12" fill="#ff0000"/><rect x="1233" y="466" width="3" height="9" fill="#ff0000"/><rect x="1238" y="450" width="1" height="17" fill="#ff0000"/><rect x="1237" y="451" width="3" height="16" fill="#ff0000"/><rect x="1242" y="449" width="1" height="10" fill="#00ff00"/><rect x="1241" y="451" width="3" height="6" fill="#00ff00"/><rect x="1246" y="453" width="1" height="5" fill="#00ff00"/><rect x="1245" y="456" width="3" height="2" fill="#00ff00"/><rect x="1250" y="430" width="1" height="28" fill="#ff0000"/><rect x="1249" y="436" width="3" height="19" fill="#ff0000"/><rect x="1254" y="432" width="1" height="7" fill="#ff0000"/><rect x="1253" y="432" width="3" height="4" fill="#ff0000"/>
<polyline points="2.5,113.5 6.5,110.9 10.5,113.3 14.5,111.9 18.5,114.5 22.5,110.7 26.5,112.3 30.5,109.9 34.5,116.9 38.5,118.7 42.5,126.9 46.5,134.5 50.5,142.1 54.5,141.9 58.5,145.1 62.5,142.1 66.5,137.5 70.5,133.3 74.5,130.9 78.5,126.3 82.5,122.7 86.5,120.7 90.5,120.1 94.5,118.1 98.5,117.1 102.5,118.3 106.5,120.5 110.5,121.1 114.5,123.7 118.5,118.3 122.5,112.9 126.5,106.7 130.5,101.3 134.5,94.5 138.5,99.5 142.5,105.7 146.5,110.1 150.5,111.7 154.5,115.5 158.5,113.7 162.5,109.7 166.5,105.3 170.5,102.6 174.5,99.6 178.5,99.6 182.5,101.6 186.5,102.4 190.5,100.3 194.5,97.3 198.5,92.9 202.5,87.7 206.5,79.9 210.5,78.9 214.5,76.7 218.5,75.5 222.5,76.9 226.5,86.7 230.5,91.5 234.5,97.7 238.5,108.3 242.5,115.9 246.5,122.1 250.5,126.9 254.5,134.3 258.5,134.7 262.5,134.1 266.5,131.2 270.5,130.6 274.5,126.7 278.5,124.7 282.5,124.3 286.5,125.6 290.5,126.2 294.5,129.7 298.5,133.3 302.5,134.1 306.5,132.9 310.5,131.9 314.5,128.1 318.5,124.9 322.5,125.7 326.5,127.9 330.5,129.8 334.5,132.4 338.5,133.7 342.5,139.9 346.5,146.3 350.5,154.6 354.5,163.4 358.5,170.9 362.5,171.5 366.5,173.5 370.5,172.7 374.5,173.9 378.5,176.4 382.5,178.8 386.5,179.6 390.5,182.1 394.5,183.1 398.5,181.0 402.5,180.0 406.5,175.2 410.5,171.8 414.5,168.6 418.5,168.3 422.5,167.6 426.5,169.9 430.5,174.5 434.5,176.3 438.5,179.3 442.5,183.0 446.5,192.3 450.5,196.1 454.5,198.3 458.5,200.0 462.5,202.2 466.5,201.2 470.5,203.1 474.5,205.9 478.5,209.3 482.5,211.1 486.5,212.3 490.5,215.3 494.5,219.7 498.5,223.8 502.5,226.6 506.5,227.4 510.5,227.4 514.5,227.8 518.5,230.6 522.5,235.4 526.5,243.2 530.5,249.2 534.5,256.6 538.5,263.4 542.5,269.4 546.5,270.8 550.5,272.9 554.5,274.4 558.5,274.2 562.5,271.8 566.5,273.8 570.5,275.4 574.5,275.1 578.5,274.9 582.5,280.5 586.5,286.9 590.5,296.5 594.5,305.5 598.5,313.1 602.5,316.6 606.5,313.6 610.5,309.8 614.5,303.1 618.5,295.3 622.5,289.5 626.5,286.5 630.5,282.9 634.5,282.3 638.5,288.3 642.5,298.3 646.5,307.1 650.5,314.3 654.5,327.2 658.5,333.5 662.5,335.2 666.5,337.4 670.5,346.0 674.5,350.0 678.5,349.0 682.5,347.7 686.5,351.7 690.5,347.4 694.5,346.8 698.5,352.8 702.5,360.8 706.5,366.5 710.5,376.2 714.5,379.0 718.5,382.1 722.5,383.1 726.5,378.1 730.5,370.1 734.5,362.7 738.5,356.4 742.5,353.0 746.5,354.1 750.5,355.9 754.5,361.9 758.5,371.5 762.5,382.1 766.5,394.6 770.5,407.4 774.5,413.8 778.5,418.4 782.5,416.8 786.5,415.5 790.5,412.3 794.5,415.5 798.5,419.6 802.5,428.0 806.5,433.6 810.5,437.8 814.5,443.4 818.5,445.9 822.5,441.7 826.5,437.9 830.5,438.3 834.5,437.1 838.5,434.9 842.5,436.8 846.5,437.7 850.5,439.6 854.5,441.4 858.5,445.7 862.5,452.7 866.5,461.2 870.5,466.1 874.5,470.2 878.5,471.3 882.5,467.9 886.5,464.5 890.5,462.2 894.5,460.2 898.5,460.2 902.5,464.2 906.5,466.8 910.5,469.1 914.5,470.9 918.5,469.5 922.5,465.5 926.5,463.8 930.5,464.3 934.5,464.4 938.5,464.6 942.5,466.7 946.5,470.1 950.5,472.6 954.5,474.9 958.5,478.9 962.5,488.1 966.5,496.1 970.5,501.1 974.5,504.5 978.5,510.3 982.5,508.3 986.5,503.5 990.5,502.9 994.5,503.9 998.5,501.9 1002.5,499.9 1006.5,499.0 1010.5,494.2 1014.5,492.5 1018.5,493.9 1022.5,495.9 1026.5,494.7 1030.5,494.7 1034.5,493.2 1038.5,491.8 1042.5,488.4 1046.5,490.9 1050.5,498.0 1054.5,502.8 1058.5,501.8 1062.5,506.0 1066.5,507.1 1070.5,502.6 1074.5,501.3 1078.5,504.0 1082.5,506.6 1086.5,512.2 1090.5,518.0 1094.5,523.3 1098.5,527.4 1102.5,529.8 1106.5,531.9 1110.5,532.7 1114.5,529.3 1118.5,523.5 1122.5,518.9 1126.5,511.5 1130.5,505.1 1134.5,502.9 1138.5,504.9 1142.5,504.3 1146.5,502.5 1150.5,500.9 1154.5,500.1 1158.5,497.3 1162.5,496.3 1166.5,496.8 1170.5,492.8 1174.5,487.6 1178.5,479.0 1182.5,473.1 1186.5,468.6 1190.5,472.4 1194.5,473.6 1198.5,479.8 1202.5,481.7 1206.5,483.0 1210.5,480.5 1214.5,480.3 1218.5,478.5 1222.5,477.7 1226.5,477.4 1230.5,476.9 1234.5,474.2 1238.5,469.5 1242.5,465.7 1246.5,461.2 1250.5,453.8 1254.5,447.0" fill="none" stroke="#ffa500" stroke-width="1" /><polyline points="2.5,123.5 6.5,116.9 10.5,113.1 14.5,109.5 18.5,108.5 22.5,108.1 26.5,108.9 30.5,110.2 34.5,113.2 38.5,115.1 42.5,117.3 46.5,119.9 50.5,122.4 54.5,124.6 58.5,126.4 62.5,128.4 66.5,128.5 70.5,130.1 74.5,130.5 78.5,131.9 82.5,132.1 86.5,132.4 90.5,131.2 94.5,130.3 98.5,128.4 102.5,126.4 106.5,124.6 110.5,123.8 114.5,122.6 118.5,119.9 122.5,117.6 126.5,115.1 130.5,113.2 134.5,111.3 138.5,111.6 142.5,112.2 146.5,111.6 150.5,110.9 154.5,110.7 158.5,110.0 162.5,108.4 166.5,105.9 170.5,103.4 174.5,104.0 178.5,105.2 182.5,106.5 186.5,106.3 190.5,105.5 194.5,103.2 198.5,100.7 202.5,98.5 206.5,95.0 210.5,92.4 214.5,90.0 218.5,88.5 222.5,88.4 226.5,89.3 230.5,89.5 234.5,89.4 238.5,90.9 242.5,93.2 246.5,97.1 250.5,100.1 254.5,104.1 258.5,107.6 262.5,112.6 266.5,115.8 270.5,119.3 274.5,122.4 278.5,124.7 282.5,126.0 286.5,127.9 290.5,129.5 294.5,130.1 298.5,130.9 302.5,130.3 306.5,130.1 310.5,128.6 314.5,127.7 318.5,127.6 322.5,128.3 326.5,129.1 330.5,129.8 334.5,130.5 338.5,131.0 342.5,133.4 346.5,136.3 350.5,138.6 354.5,141.2 358.5,144.1 362.5,147.2 366.5,151.1 370.5,154.6 374.5,158.7 378.5,162.2 382.5,165.4 386.5,168.9 390.5,172.3 394.5,176.3 398.5,176.9 402.5,177.4 406.5,176.3 410.5,175.3 414.5,175.5 418.5,175.8 422.5,175.3 426.5,175.3 430.5,175.5 434.5,175.5 438.5,176.0 442.5,176.5 446.5,179.0 450.5,180.2 454.5,181.7 458.5,183.1 462.5,186.2 466.5,189.5 470.5,192.5 474.5,195.1 478.5,198.0 482.5,200.9 486.5,203.0 490.5,206.5 494.5,209.6 498.5,212.6 502.5,213.1 506.5,214.2 510.5,216.9 514.5,219.5 518.5,222.7 522.5,225.3 526.5,228.5 530.5,232.3 534.5,236.4 538.5,241.4 542.5,245.7 546.5,248.3 550.5,251.3 554.5,254.5 558.5,258.4 562.5,261.6 566.5,264.9 570.5,268.3 574.5,270.4 578.5,272.5 582.5,274.9 586.5,278.3 590.5,282.5 594.5,285.4 598.5,288.1 602.5,291.2 606.5,292.9 610.5,295.2 614.5,295.7 618.5,296.5 622.5,296.8 626.5,296.8 630.5,298.0 634.5,298.4 638.5,299.3 642.5,300.9 646.5,300.6 650.5,301.1 654.5,303.4 658.5,305.3 662.5,308.6 666.5,310.5 670.5,316.4 674.5,323.0 678.5,326.5 682.5,330.5 686.5,335.0 690.5,339.7 694.5,343.9 698.5,346.0 702.5,349.6 706.5,353.7 710.5,357.2 714.5,360.1 718.5,362.7 722.5,366.0 726.5,365.1 730.5,364.4 734.5,365.0 738.5,365.9 742.5,366.4 746.5,367.5 750.5,367.6 754.5,368.2 758.5,369.7 762.5,372.0 766.5,374.1 770.5,377.8 774.5,379.6 778.5,382.3 782.5,385.8 786.5,390.3 790.5,395.5 794.5,400.7 798.5,406.1 802.5,412.2 806.5,418.1 810.5,422.6 814.5,426.4 818.5,428.9 822.5,429.0 826.5,429.0 830.5,431.3 834.5,433.0 838.5,435.3 842.5,436.6 846.5,438.0 850.5,439.9 854.5,440.8 858.5,441.7 862.5,443.5 866.5,446.4 870.5,448.0 874.5,449.5 878.5,452.2 882.5,454.2 886.5,455.8 890.5,457.0 894.5,458.6 898.5,460.6 902.5,463.7 906.5,465.5 910.5,466.9 914.5,467.6 918.5,466.6 922.5,465.2 926.5,464.6 930.5,464.8 934.5,465.1 938.5,465.4 942.5,466.0 946.5,467.5 950.5,469.2 954.5,470.3 958.5,470.7 962.5,473.6 966.5,477.1 970.5,480.0 974.5,482.8 978.5,486.6 982.5,489.5 986.5,491.1 990.5,493.7 994.5,496.9 998.5,499.2 1002.5,500.1 1006.5,500.5 1010.5,500.6 1014.5,501.7 1018.5,501.3 1022.5,500.1 1026.5,498.3 1030.5,497.1 1034.5,495.6 1038.5,495.4 1042.5,494.7 1046.5,494.0 1050.5,495.0 1054.5,495.9 1058.5,496.1 1062.5,497.2 1066.5,498.6 1070.5,498.6 1074.5,498.6 1078.5,499.0 1082.5,501.4 1086.5,504.8 1090.5,507.5 1094.5,509.8 1098.5,512.9 1102.5,515.3 1106.5,516.9 1110.5,518.2 1114.5,519.7 1118.5,519.2 1122.5,519.5 1126.5,520.1 1130.5,519.5 1134.5,519.3 1138.5,518.5 1142.5,516.7 1146.5,514.6 1150.5,511.5 1154.5,509.5 1158.5,506.9 1162.5,504.0 1166.5,501.7 1170.5,498.5 1174.5,496.7 1178.5,492.7 1182.5,490.3 1186.5,488.7 1190.5,487.6 1194.5,485.5 1198.5,483.9 1202.5,482.9 1206.5,482.3 1210.5,480.6 1214.5,479.4 1218.5,477.6 1222.5,476.0 1226.5,476.8 1230.5,476.8 1234.5,477.7 1238.5,476.3 1242.5,475.0 1246.5,472.8 1250.5,469.7 1254.5,466.0" fill="none" stroke="#ff0000" stroke-width="1" /><polyline points="2.5,158.5 6.5,156.7 10.5,155.4 14.5,153.4 18.5,151.7 22.5,149.1 26.5,146.5 30.5,143.6 34.5,141.5 38.5,138.9 42.5,136.8 46.5,135.0 50.5,133.3 54.5,131.3 58.5,129.5 62.5,127.3 66.5,125.0 70.5,122.8 74.5,121.2 78.5,120.2 82.5,119.4 86.5,119.5 90.5,120.4 94.5,121.3 98.5,121.9 102.5,122.4 106.5,122.7 110.5,123.3 114.5,123.9 118.5,123.3 122.5,122.3 126.5,122.0 130.5,121.3 134.5,121.0 138.5,120.8 142.5,121.4 146.5,121.7 150.5,121.6 154.5,120.8 158.5,120.0 162.5,118.6 166.5,116.8 170.5,115.0 174.5,113.7 178.5,112.4 182.5,111.8 186.5,110.9 190.5,109.5 194.5,108.1 198.5,106.8 202.5,106.0 206.5,104.1 210.5,102.6 214.5,101.2 218.5,99.9 222.5,99.1 226.5,98.5 230.5,97.7 234.5,96.9 238.5,98.2 242.5,99.6 246.5,101.1 250.5,102.0 254.5,103.5 258.5,104.1 262.5,104.3 266.5,104.6 270.5,105.1 274.5,105.4 278.5,105.9 282.5,106.7 286.5,108.0 290.5,109.1 294.5,110.4 298.5,111.6 302.5,112.2 306.5,113.1 310.5,114.3 314.5,115.5 318.5,116.9 322.5,118.5 326.5,121.1 330.5,122.8 334.5,124.8 338.5,126.6 342.5,129.0 346.5,131.0 350.5,133.3 354.5,135.8 358.5,137.0 362.5,138.3 366.5,139.6 370.5,141.0 374.5,142.4 378.5,144.0 382.5,145.7 386.5,147.6 390.5,149.5 394.5,151.8 398.5,153.4 402.5,155.0 406.5,155.9 410.5,157.1 414.5,158.2 418.5,159.2 422.5,160.6 426.5,162.1 430.5,164.2 434.5,166.3 438.5,168.3 442.5,170.1 446.5,172.8 450.5,175.3 454.5,177.3 458.5,179.3 462.5,180.5 466.5,182.0 470.5,183.4 474.5,184.4 478.5,185.7 482.5,187.1 486.5,188.4 490.5,190.5 494.5,192.0 498.5,193.6 502.5,195.1 506.5,196.4 510.5,198.1 514.5,199.5 518.5,201.9 522.5,204.3 526.5,207.7 530.5,211.0 534.5,214.1 538.5,217.7 542.5,221.3 546.5,224.6 550.5,227.4 554.5,230.5 558.5,233.6 562.5,236.1 566.5,238.1 570.5,240.6 574.5,243.3 578.5,246.0 582.5,249.1 586.5,252.4 590.5,256.1 594.5,259.9 598.5,263.3 602.5,266.7 606.5,269.3 610.5,271.9 614.5,273.8 618.5,275.3 622.5,277.2 626.5,279.2 630.5,281.1 634.5,282.9 638.5,284.9 642.5,287.7 646.5,289.8 650.5,292.0 654.5,294.6 658.5,296.6 662.5,298.7 666.5,300.9 670.5,304.2 674.5,307.2 678.5,309.0 682.5,311.3 686.5,313.9 690.5,316.2 694.5,319.2 698.5,322.0 702.5,324.7 706.5,327.2 710.5,329.5 714.5,331.4 718.5,333.5 722.5,335.8 726.5,337.9 730.5,339.5 734.5,341.3 738.5,343.7 742.5,346.4 746.5,349.2 750.5,351.7 754.5,354.6 758.5,357.6 762.5,360.3 766.5,363.7 770.5,367.2 774.5,369.0 778.5,371.7 782.5,373.9 786.5,376.8 790.5,378.2 794.5,380.0 798.5,383.5 802.5,387.3 806.5,390.4 810.5,393.3 814.5,396.1 818.5,399.0 822.5,400.8 826.5,402.3 830.5,403.6 834.5,405.7 838.5,407.8 842.5,409.7 846.5,412.2 850.5,415.2 854.5,418.9 858.5,422.7 862.5,426.4 866.5,430.1 870.5,433.6 874.5,436.9 878.5,439.3 882.5,440.7 886.5,441.7 890.5,442.7 894.5,444.6 898.5,446.3 902.5,448.6 906.5,450.3 910.5,452.2 914.5,453.9 918.5,454.6 922.5,454.8 926.5,455.3 930.5,456.6 934.5,457.4 938.5,457.7 942.5,459.0 946.5,460.7 950.5,462.3 954.5,463.7 958.5,465.1 962.5,467.5 966.5,470.4 970.5,472.6 974.5,474.2 978.5,475.8 982.5,476.8 986.5,477.5 990.5,478.7 994.5,479.8 998.5,480.9 1002.5,482.1 1006.5,483.2 1010.5,484.0 1014.5,485.2 1018.5,486.5 1022.5,487.4 1026.5,487.9 1030.5,488.3 1034.5,488.9 1038.5,490.2 1042.5,491.2 1046.5,492.4 1050.5,493.9 1054.5,495.3 1058.5,496.4 1062.5,497.8 1066.5,498.6 1070.5,498.9 1074.5,499.7 1078.5,500.6 1082.5,500.9 1086.5,501.2 1090.5,501.7 1094.5,502.8 1098.5,503.5 1102.5,504.4 1106.5,506.0 1110.5,506.7 1114.5,507.1 1118.5,507.1 1122.5,507.6 1126.5,508.1 1130.5,508.5 1134.5,508.8 1138.5,508.9 1142.5,509.0 1146.5,509.4 1150.5,509.6 1154.5,510.0 1158.5,509.8 1162.5,510.3 1166.5,510.3 1170.5,508.7 1174.5,507.4 1178.5,506.0 1182.5,504.8 1186.5,503.9 1190.5,503.7 1194.5,502.8 1198.5,502.0 1202.5,500.7 1206.5,499.1 1210.5,497.4 1214.5,495.6 1218.5,493.8 1222.5,492.0 1226.5,490.0 1230.5,488.1 1234.5,486.5 1238.5,484.8 1242.5,483.1 1246.5,481.6 1250.5,479.6 1254.5,477.2" fill="none" stroke="#0000cd" stroke-width="1" />
<rect x="2" y="173" width="1576" height="2" fill="#ff0000"/><rect x="2" y="241" width="1576" height="2" fill="#ff0000"/><rect x="2" y="319" width="1576" height="2" fill="#ff0000"/><rect x="2" y="402" width="1576" height="2" fill="#ff0000"/><rect x="2" y="467" width="1576" height="2" fill="#00ff00"/><rect x="2" y="541" width="1576" height="2" fill="#0000ff"/>
</g>
<g clip-path="url(#cr)"><line x1="2" y1="587.5" x2="1578" y2="587.5" stroke="#c0c0c0" stroke-width="1" stroke-dasharray="3 3"/><line x1="2" y1="624.5" x2="1578" y2="624.5" stroke="#c0c0c0" stroke-width="1" stroke-dasharray="3 3"/><polyline points="2.5,600.4 6.5,596.7 10.5,601.6 14.5,598.8 18.5,602.2 22.5,599.1 26.5,600.3 30.5,600.7 34.5,607.4 38.5,605.3 42.5,608.2 46.5,608.6 50.5,609.1 54.5,606.8 58.5,608.5 62.5,604.1 66.5,602.6 70.5,603.8 74.5,603.8 78.5,602.6 82.5,599.3 86.5,600.0 90.5,603.9 94.5,601.8 98.5,602.1 102.5,601.8 106.5,604.7 110.5,605.9 114.5,607.1 118.5,594.2 122.5,593.9 126.5,595.3 130.5,598.5 134.5,597.2 138.5,605.6 142.5,607.4 146.5,605.1 150.5,602.5 154.5,605.4 158.5,602.3 162.5,600.1 166.5,597.4 170.5,598.1 174.5,600.9 178.5,604.2 182.5,606.1 186.5,600.2 190.5,595.6 194.5,596.1 198.5,596.1 202.5,596.1 206.5,587.5 210.5,598.2 214.5,596.7 218.5,599.0 222.5,604.6 226.5,610.1 230.5,608.5 234.5,609.3 238.5,617.8 242.5,616.9 246.5,619.1 250.5,614.0 254.5,618.3 258.5,614.8 262.5,611.8 266.5,610.4 270.5,610.5 274.5,609.8 278.5,610.5 282.5,610.9 286.5,613.1 290.5,611.3 294.5,616.8 298.5,617.5 302.5,609.9 306.5,607.3 310.5,606.3 314.5,605.8 318.5,608.5 322.5,612.0 326.5,613.0 330.5,610.7 334.5,612.0 338.5,610.9 342.5,624.1 346.5,625.0 350.5,626.7 354.5,628.1 358.5,622.3 362.5,620.2 366.5,623.6 370.5,618.2 374.5,623.2 378.5,622.1 382.5,619.8 386.5,620.6 390.5,620.6 394.5,623.5 398.5,612.2 402.5,613.1 406.5,604.4 410.5,607.5 414.5,611.4 418.5,610.1 422.5,610.1 426.5,609.2 430.5,617.2 434.5,614.1 438.5,615.6 442.5,617.0 446.5,625.6 450.5,619.9 454.5,613.2 458.5,613.5 462.5,615.7 466.5,619.2 470.5,620.7 474.5,615.9 478.5,617.1 482.5,616.2 486.5,619.1 490.5,623.4 494.5,622.3 498.5,623.0 502.5,617.7 506.5,616.4 510.5,620.1 514.5,620.2 518.5,624.9 522.5,625.5 526.5,629.1 530.5,629.2 534.5,631.1 538.5,633.5 542.5,631.9 546.5,624.3 550.5,625.5 554.5,626.8 558.5,627.6 562.5,618.1 566.5,622.2 570.5,622.9 574.5,619.4 578.5,620.5 582.5,625.7 586.5,629.7 590.5,633.1 594.5,628.1 598.5,625.7 602.5,623.0 606.5,614.1 610.5,618.4 614.5,608.8 618.5,605.2 622.5,607.5 626.5,606.3 630.5,610.2 634.5,607.3 638.5,614.6 642.5,620.9 646.5,617.4 650.5,618.1 654.5,622.6 658.5,618.6 662.5,619.4 666.5,616.7 670.5,624.0 674.5,623.2 678.5,611.1 682.5,611.5 686.5,616.1 690.5,614.0 694.5,617.5 698.5,616.8 702.5,619.4 706.5,621.1 710.5,623.6 714.5,616.9 718.5,616.7 722.5,617.1 726.5,609.4 730.5,608.9 734.5,604.1 738.5,605.8 742.5,610.6 746.5,610.9 750.5,611.5 754.5,613.3 758.5,619.5 762.5,623.9 766.5,625.8 770.5,626.4 774.5,615.8 778.5,618.9 782.5,615.2 786.5,617.9 790.5,615.7 794.5,617.2 798.5,621.2 802.5,623.4 806.5,622.6 810.5,617.3 814.5,620.2 818.5,620.8 822.5,612.4 826.5,612.4 830.5,614.6 834.5,615.9 838.5,615.1 842.5,614.4 846.5,612.1 850.5,616.3 854.5,617.6 858.5,620.6 862.5,623.6 866.5,624.2 870.5,621.4 874.5,621.6 878.5,618.9 882.5,613.2 886.5,614.1 890.5,614.3 894.5,615.2 898.5,617.4 902.5,621.0 906.5,617.6 910.5,617.2 914.5,617.2 918.5,609.7 922.5,607.7 926.5,611.1 930.5,616.1 934.5,614.8 938.5,608.1 942.5,611.1 946.5,616.8 950.5,619.1 954.5,617.1 958.5,615.8 962.5,626.3 966.5,627.9 970.5,622.4 974.5,616.4 978.5,619.4 982.5,615.8 986.5,612.3 990.5,616.4 994.5,614.9 998.5,612.4 1002.5,609.0 1006.5,608.3 1010.5,604.7 1014.5,610.2 1018.5,614.1 1022.5,612.2 1026.5,604.5 1030.5,603.5 1034.5,605.9 1038.5,610.6 1042.5,604.4 1046.5,609.4 1050.5,616.0 1054.5,613.4 1058.5,606.4 1062.5,610.3 1066.5,609.2 1070.5,606.4 1074.5,609.9 1078.5,610.5 1082.5,614.3 1086.5,617.7 1090.5,615.1 1094.5,617.2 1098.5,615.3 1102.5,616.3 1106.5,619.4 1110.5,613.4 1114.5,607.3 1118.5,601.5 1122.5,605.0 1126.5,603.6 1130.5,601.1 1134.5,604.0 1138.5,606.1 1142.5,604.4 1146.5,600.6 1150.5,598.4 1154.5,603.5 1158.5,601.5 1162.5,603.9 1166.5,602.8 1170.5,593.0 1174.5,595.4 1178.5,589.6 1182.5,597.7 1186.5,599.4 1190.5,604.3 1194.5,601.7 1198.5,602.9 1202.5,601.9 1206.5,602.5 1210.5,600.3 1214.5,601.9 1218.5,599.9 1222.5,601.0 1226.5,603.0 1230.5,600.0 1234.5,597.0 1238.5,591.7 1242.5,595.4 1246.5,595.1 1250.5,587.8 1254.5,586.3" fill="none" stroke="#1e90ff" stroke-width="1"/></g>
<g clip-path="url(#cd)"><rect x="2" y="661" width="1" height="42" fill="#c0c0c0"/><rect x="6" y="661" width="1" height="42" fill="#c0c0c0"/><rect x="10" y="665" width="1" height="38" fill="#c0c0c0"/><rect x="14" y="665" width="1" height="38" fill="#c0c0c0"/><rect x="18" y="669" width="1" height="34" fill="#c0c0c0"/><rect x="22" y="669" width="1" height="34" fill="#c0c0c0"/><rect x="26" y="670" width="1" height="33" fill="#c0c0c0"/><rect x="30" y="672" width="1" height="31" fill="#c0c0c0"/><rect x="34" y="678" width="1" height="25" fill="#c0c0c0"/><rect x="38" y="682" width="1" height="21" fill="#c0c0c0"/><rect x="42" y="687" width="1" height="16" fill="#c0c0c0"/><rect x="46" y="692" width="1" height="11" fill="#c0c0c0"/><rect x="50" y="696" width="1" height="7" fill="#c0c0c0"/><rect x="54" y="697" width="1" height="6" fill="#c0c0c0"/><rect x="58" y="700" width="1" height="3" fill="#c0c0c0"/><rect x="62" y="699" width="1" height="4" fill="#c0c0c0"/><rect x="66" y="698" width="1" height="5" fill="#c0c0c0"/><rect x="70" y="698" width="1" height="5" fill="#c0c0c0"/><rect x="74" y="697" width="1" height="6" fill="#c0c0c0"/><rect x="78" y="697" width="1" height="6" fill="#c0c0c0"/><rect x="82" y="694" width="1" height="9" fill="#c0c0c0"/><rect x="86" y="693" width="1" height="10" fill="#c0c0c0"/><rect x="90" y="694" width="1" height="9" fill="#c0c0c0"/><rect x="94" y="693" width="1" height="10" fill="#c0c0c0"/><rect x="98" y="693" width="1" height="10" fill="#c0c0c0"/><rect x="102" y="693" width="1" height="10" fill="#c0c0c0"/><rect x="106" y="694" width="1" height="9" fill="#c0c0c0"/><rect x="110" y="695" width="1" height="8" fill="#c0c0c0"/><rect x="114" y="697" width="1" height="6" fill="#c0c0c0"/><rect x="118" y="692" width="1" height="11" fill="#c0c0c0"/><rect x="122" y="689" width="1" height="14" fill="#c0c0c0"/><rect x="126" y="686" width="1" height="17" fill="#c0c0c0"/><rect x="130" y="686" width="1" height="17" fill="#c0c0c0"/><rect x="134" y="685" width="1" height="18" fill="#c0c0c0"/><rect x="138" y="688" width="1" height="15" fill="#c0c0c0"/><rect x="142" y="691" width="1" height="12" fill="#c0c0c0"/><rect x="146" y="692" width="1" height="11" fill="#c0c0c0"/><rect x="150" y="692" width="1" height="11" fill="#c0c0c0"/><rect x="154" y="694" width="1" height="9" fill="#c0c0c0"/><rect x="158" y="694" width="1" height="9" fill="#c0c0c0"/><rect x="162" y="693" width="1" height="10" fill="#c0c0c0"/><rect x="166" y="691" width="1" height="12" fill="#c0c0c0"/><rect x="170" y="690" width="1" height="13" fill="#c0c0c0"/><rect x="174" y="690" width="1" height="13" fill="#c0c0c0"/><rect x="178" y="691" width="1" height="12" fill="#c0c0c0"/><rect x="182" y="693" width="1" height="10" fill="#c0c0c0"/><rect x="186" y="693" width="1" height="10" fill="#c0c0c0"/><rect x="190" y="690" width="1" height="13" fill="#c0c0c0"/><rect x="194" y="689" width="1" height="14" fill="#c0c0c0"/><rect x="198" y="688" width="1" height="15" fill="#c0c0c0"/><rect x="202" y="687" width="1" height="16" fill="#c0c0c0"/><rect x="206" y="682" width="1" height="21" fill="#c0c0c0"/><rect x="210" y="682" width="1" height="21" fill="#c0c0c0"/><rect x="214" y="682" width="1" height="21" fill="#c0c0c0"/><rect x="218" y="682" width="1" height="21" fill="#c0c0c0"/><rect x="222" y="685" width="1" height="18" fill="#c0c0c0"/><rect x="226" y="689" width="1" height="14" fill="#c0c0c0"/><rect x="230" y="692" width="1" height="11" fill="#c0c0c0"/><rect x="234" y="695" width="1" height="8" fill="#c0c0c0"/><rect x="238" y="702" width="1" height="1" fill="#c0c0c0"/><rect x="242" y="702" width="1" height="5" fill="#c0c0c0"/><rect x="246" y="702" width="1" height="10" fill="#c0c0c0"/><rect x="250" y="702" width="1" height="12" fill="#c0c0c0"/><rect x="254" y="702" width="1" height="16" fill="#c0c0c0"/><rect x="258" y="702" width="1" height="17" fill="#c0c0c0"/><rect x="262" y="702" width="1" height="17" fill="#c0c0c0"/><rect x="266" y="702" width="1" height="17" fill="#c0c0c0"/><rect x="270" y="702" width="1" height="16" fill="#c0c0c0"/><rect x="274" y="702" width="1" height="15" fill="#c0c0c0"/><rect x="278" y="702" width="1" height="14" fill="#c0c0c0"/><rect x="282" y="702" width="1" height="14" fill="#c0c0c0"/><rect x="286" y="702" width="1" height="14" fill="#c0c0c0"/><rect x="290" y="702" width="1" height="14" fill="#c0c0c0"/><rect x="294" y="702" width="1" height="15" fill="#c0c0c0"/><rect x="298" y="702" width="1" height="16" fill="#c0c0c0"/><rect x="302" y="702" width="1" height="15" fill="#c0c0c0"/><rect x="306" y="702" width="1" height="13" fill="#c0c0c0"/><rect x="310" y="702" width="1" height="12" fill="#c0c0c0"/><rect x="314" y="702" width="1" height="10" fill="#c0c0c0"/><rect x="318" y="702" width="1" height="9" fill="#c0c0c0"/><rect x="322" y="702" width="1" height="10" fill="#c0c0c0"/><rect x="326" y="702" width="1" height="10" fill="#c0c0c0"/><rect x="330" y="702" width="1" height="10" fill="#c0c0c0"/><rect x="334" y="702" width="1" height="10" fill="#c0c0c0"/><rect x="338" y="702" width="1" height="10" fill="#c0c0c0"/><rect x="342" y="702" width="1" height="14" fill="#c0c0c0"/><rect x="346" y="702" width="1" height="18" fill="#c0c0c0"/><rect x="350" y="702" width="1" height="22" fill="#c0c0c0"/><rect x="354" y="702" width="1" height="25" fill="#c0c0c0"/><rect x="358" y="702" width="1" height="26" fill="#c0c0c0"/><rect x="362" y="702" width="1" height="27" fill="#c0c0c0"/><rect x="366" y="702" width="1" height="28" fill="#c0c0c0"/><rect x="370" y="702" width="1" height="27" fill="#c0c0c0"/><rect x="374" y="702" width="1" height="29" fill="#c0c0c0"/><rect x="378" y="702" width="1" height="30" fill="#c0c0c0"/><rect x="382" y="702" width="1" height="29" fill="#c0c0c0"/><rect x="386" y="702" width="1" height="29" fill="#c0c0c0"/><rect x="390" y="702" width="1" height="29" fill="#c0c0c0"/><rect x="394" y="702" width="1" height="29" fill="#c0c0c0"/><rect x="398" y="702" width="1" height="27" fill="#c0c0c0"/><rect x="402" y="702" width="1" height="25" fill="#c0c0c0"/><rect x="406" y="702" width="1" height="20" fill="#c0c0c0"/><rect x="410" y="702" width="1" height="18" fill="#c0c0c0"/><rect x="414" y="702" width="1" height="17" fill="#c0c0c0"/><rect x="418" y="702" width="1" height="16" fill="#c0c0c0"/><rect x="422" y="702" width="1" height="15" fill="#c0c0c0"/><rect x="426" y="702" width="1" height="13" fill="#c0c0c0"/><rect x="430" y="702" width="1" height="15" fill="#c0c0c0"/><rect x="434" y="702" width="1" height="15" fill="#c0c0c0"/><rect x="438" y="702" width="1" height="16" fill="#c0c0c0"/><rect x="442" y="702" width="1" height="17" fill="#c0c0c0"/><rect x="446" y="702" width="1" height="21" fill="#c0c0c0"/><rect x="450" y="702" width="1" height="23" fill="#c0c0c0"/><rect x="454" y="702" width="1" height="22" fill="#c0c0c0"/><rect x="458" y="702" width="1" height="22" fill="#c0c0c0"/><rect x="462" y="702" width="1" height="22" fill="#c0c0c0"/><rect x="466" y="702" width="1" height="23" fill="#c0c0c0"/><rect x="470" y="702" width="1" height="25" fill="#c0c0c0"/><rect x="474" y="702" width="1" height="25" fill="#c0c0c0"/><rect x="478" y="702" width="1" height="25" fill="#c0c0c0"/><rect x="482" y="702" width="1" height="24" fill="#c0c0c0"/><rect x="486" y="702" width="1" height="25" fill="#c0c0c0"/><rect x="490" y="702" width="1" height="27" fill="#c0c0c0"/><rect x="494" y="702" width="1" height="28" fill="#c0c0c0"/><rect x="498" y="702" width="1" height="29" fill="#c0c0c0"/><rect x="502" y="702" width="1" height="28" fill="#c0c0c0"/><rect x="506" y="702" width="1" height="27" fill="#c0c0c0"/><rect x="510" y="702" width="1" height="27" fill="#c0c0c0"/><rect x="514" y="702" width="1" height="27" fill="#c0c0c0"/><rect x="518" y="702" width="1" height="29" fill="#c0c0c0"/><rect x="522" y="702" width="1" height="30" fill="#c0c0c0"/><rect x="526" y="702" width="1" height="33" fill="#c0c0c0"/><rect x="530" y="702" width="1" height="35" fill="#c0c0c0"/><rect x="534" y="702" width="1" height="37" fill="#c0c0c0"/><rect x="538" y="702" width="1" height="40" fill="#c0c0c0"/><rect x="542" y="702" width="1" height="41" fill="#c0c0c0"/><rect x="546" y="702" width="1" height="41" fill="#c0c0c0"/><rect x="550" y="702" width="1" height="40" fill="#c0c0c0"/><rect x="554" y="702" width="1" height="40" fill="#c0c0c0"/><rect x="558" y="702" width="1" height="40" fill="#c0c0c0"/><rect x="562" y="702" width="1" height="38" fill="#c0c0c0"/><rect x="566" y="702" width="1" height="37" fill="#c0c0c0"/><rect x="570" y="702" width="1" height="36" fill="#c0c0c0"/><rect x="574" y="702" width="1" height="35" fill="#c0c0c0"/><rect x="578" y="702" width="1" height="34" fill="#c0c0c0"/><rect x="582" y="702" width="1" height="35" fill="#c0c0c0"/><rect x="586" y="702" width="1" height="38" fill="#c0c0c0"/><rect x="590" y="702" width="1" height="42" fill="#c0c0c0"/><rect x="594" y="702" width="1" height="44" fill="#c0c0c0"/><rect x="598" y="702" width="1" height="45" fill="#c0c0c0"/><rect x="602" y="702" width="1" height="44" fill="#c0c0c0"/><rect x="606" y="702" width="1" height="40" fill="#c0c0c0"/><rect x="610" y="702" width="1" height="39" fill="#c0c0c0"/><rect x="614" y="702" width="1" height="34" fill="#c0c0c0"/><rect x="618" y="702" width="1" height="28" fill="#c0c0c0"/><rect x="622" y="702" width="1" height="25" fill="#c0c0c0"/><rect x="626" y="702" width="1" height="21" fill="#c0c0c0"/><rect x="630" y="702" width="1" height="20" fill="#c0c0c0"/><rect x="634" y="702" width="1" height="17" fill="#c0c0c0"/><rect x="638" y="702" width="1" height="19" fill="#c0c0c0"/><rect x="642" y="702" width="1" height="23" fill="#c0c0c0"/><rect x="646" y="702" width="1" height="26" fill="#c0c0c0"/><rect x="650" y="702" width="1" height="27" fill="#c0c0c0"/><rect x="654" y="702" width="1" height="32" fill="#c0c0c0"/><rect x="658" y="702" width="1" height="33" fill="#c0c0c0"/><rect x="662" y="702" width="1" height="35" fill="#c0c0c0"/><rect x="666" y="702" width="1" height="34" fill="#c0c0c0"/><rect x="670" y="702" width="1" height="39" fill="#c0c0c0"/><rect x="674" y="702" width="1" height="42" fill="#c0c0c0"/><rect x="678" y="702" width="1" height="39" fill="#c0c0c0"/><rect x="682" y="702" width="1" height="36" fill="#c0c0c0"/><rect x="686" y="702" width="1" height="36" fill="#c0c0c0"/><rect x="690" y="702" width="1" height="35" fill="#c0c0c0"/><rect x="694" y="702" width="1" height="36" fill="#c0c0c0"/><rect x="698" y="702" width="1" height="37" fill="#c0c0c0"/><rect x="702" y="702" width="1" height="38" fill="#c0c0c0"/><rect x="706" y="702" width="1" height="40" fill="#c0c0c0"/><rect x="710" y="702" width="1" height="44" fill="#c0c0c0"/><rect x="714" y="702" width="1" height="43" fill="#c0c0c0"/><rect x="718" y="702" width="1" height="42" fill="#c0c0c0"/><rect x="722" y="702" width="1" height="41" fill="#c0c0c0"/><rect x="726" y="702" width="1" height="36" fill="#c0c0c0"/><rect x="730" y="702" width="1" height="32" fill="#c0c0c0"/><rect x="734" y="702" width="1" height="26" fill="#c0c0c0"/><rect x="738" y="702" width="1" height="22" fill="#c0c0c0"/><rect x="742" y="702" width="1" height="21" fill="#c0c0c0"/><rect x="746" y="702" width="1" height="20" fill="#c0c0c0"/><rect x="750" y="702" width="1" height="19" fill="#c0c0c0"/><rect x="754" y="702" width="1" height="20" fill="#c0c0c0"/><rect x="758" y="702" width="1" height="23" fill="#c0c0c0"/><rect x="762" y="702" width="1" height="29" fill="#c0c0c0"/><rect x="766" y="702" width="1" height="34" fill="#c0c0c0"/><rect x="770" y="702" width="1" height="39" fill="#c0c0c0"/><rect x="774" y="702" width="1" height="38" fill="#c0c0c0"/><rect x="778" y="702" width="1" height="39" fill="#c0c0c0"/><rect x="782" y="702" width="1" height="38" fill="#c0c0c0"/><rect x="786" y="702" width="1" height="39" fill="#c0c0c0"/><rect x="790" y="702" width="1" height="38" fill="#c0c0c0"/><rect x="794" y="702" width="1" height="38" fill="#c0c0c0"/><rect x="798" y="702" width="1" height="40" fill="#c0c0c0"/><rect x="802" y="702" width="1" height="43" fill="#c0c0c0"/><rect x="806" y="702" width="1" height="44" fill="#c0c0c0"/><rect x="810" y="702" width="1" height="43" fill="#c0c0c0"/><rect x="814" y="702" width="1" height="44" fill="#c0c0c0"/><rect x="818" y="702" width="1" height="44" fill="#c0c0c0"/><rect x="822" y="702" width="1" height="41" fill="#c0c0c0"/><rect x="826" y="702" width="1" height="37" fill="#c0c0c0"/><rect x="830" y="702" width="1" height="36" fill="#c0c0c0"/><rect x="834" y="702" width="1" height="35" fill="#c0c0c0"/><rect x="838" y="702" width="1" height="33" fill="#c0c0c0"/><rect x="842" y="702" width="1" height="31" fill="#c0c0c0"/><rect x="846" y="702" width="1" height="29" fill="#c0c0c0"/><rect x="850" y="702" width="1" height="29" fill="#c0c0c0"/><rect x="854" y="702" width="1" height="29" fill="#c0c0c0"/><rect x="858" y="702" width="1" height="30" fill="#c0c0c0"/><rect x="862" y="702" width="1" height="33" fill="#c0c0c0"/><rect x="866" y="702" width="1" height="35" fill="#c0c0c0"/><rect x="870" y="702" width="1" height="35" fill="#c0c0c0"/><rect x="874" y="702" width="1" height="35" fill="#c0c0c0"/><rect x="878" y="702" width="1" height="34" fill="#c0c0c0"/><rect x="882" y="702" width="1" height="31" fill="#c0c0c0"/><rect x="886" y="702" width="1" height="29" fill="#c0c0c0"/><rect x="890" y="702" width="1" height="27" fill="#c0c0c0"/><rect x="894" y="702" width="1" height="26" fill="#c0c0c0"/><rect x="898" y="702" width="1" height="25" fill="#c0c0c0"/><rect x="902" y="702" width="1" height="26" fill="#c0c0c0"/><rect x="906" y="702" width="1" height="25" fill="#c0c0c0"/><rect x="910" y="702" width="1" height="25" fill="#c0c0c0"/><rect x="914" y="702" width="1" height="24" fill="#c0c0c0"/><rect x="918" y="702" width="1" height="21" fill="#c0c0c0"/><rect x="922" y="702" width="1" height="18" fill="#c0c0c0"/><rect x="926" y="702" width="1" height="17" fill="#c0c0c0"/><rect x="930" y="702" width="1" height="17" fill="#c0c0c0"/><rect x="934" y="702" width="1" height="17" fill="#c0c0c0"/><rect x="938" y="702" width="1" height="15" fill="#c0c0c0"/><rect x="942" y="702" width="1" height="14" fill="#c0c0c0"/><rect x="946" y="702" width="1" height="15" fill="#c0c0c0"/><rect x="950" y="702" width="1" height="17" fill="#c0c0c0"/><rect x="954" y="702" width="1" height="18" fill="#c0c0c0"/><rect x="958" y="702" width="1" height="18" fill="#c0c0c0"/><rect x="962" y="702" width="1" height="22" fill="#c0c0c0"/><rect x="966" y="702" width="1" height="27" fill="#c0c0c0"/><rect x="970" y="702" width="1" height="29" fill="#c0c0c0"/><rect x="974" y="702" width="1" height="28" fill="#c0c0c0"/><rect x="978" y="702" width="1" height="29" fill="#c0c0c0"/><rect x="982" y="702" width="1" height="28" fill="#c0c0c0"/><rect x="986" y="702" width="1" height="26" fill="#c0c0c0"/><rect x="990" y="702" width="1" height="26" fill="#c0c0c0"/><rect x="994" y="702" width="1" height="26" fill="#c0c0c0"/><rect x="998" y="702" width="1" height="24" fill="#c0c0c0"/><rect x="1002" y="702" width="1" height="21" fill="#c0c0c0"/><rect x="1006" y="702" width="1" height="19" fill="#c0c0c0"/><rect x="1010" y="702" width="1" height="16" fill="#c0c0c0"/><rect x="1014" y="702" width="1" height="15" fill="#c0c0c0"/><rect x="1018" y="702" width="1" height="15" fill="#c0c0c0"/><rect x="1022" y="702" width="1" height="15" fill="#c0c0c0"/><rect x="1026" y="702" width="1" height="12" fill="#c0c0c0"/><rect x="1030" y="702" width="1" height="10" fill="#c0c0c0"/><rect x="1034" y="702" width="1" height="8" fill="#c0c0c0"/><rect x="1038" y="702" width="1" height="9" fill="#c0c0c0"/><rect x="1042" y="702" width="1" height="7" fill="#c0c0c0"/><rect x="1046" y="702" width="1" height="7" fill="#c0c0c0"/><rect x="1050" y="702" width="1" height="11" fill="#c0c0c0"/><rect x="1054" y="702" width="1" height="12" fill="#c0c0c0"/><rect x="1058" y="702" width="1" height="11" fill="#c0c0c0"/><rect x="1062" y="702" width="1" height="11" fill="#c0c0c0"/><rect x="1066" y="702" width="1" height="11" fill="#c0c0c0"/><rect x="1070" y="702" width="1" height="9" fill="#c0c0c0"/><rect x="1074" y="702" width="1" height="10" fill="#c0c0c0"/><rect x="1078" y="702" width="1" height="10" fill="#c0c0c0"/><rect x="1082" y="702" width="1" height="12" fill="#c0c0c0"/><rect x="1086" y="702" width="1" height="15" fill="#c0c0c0"/><rect x="1090" y="702" width="1" height="17" fill="#c0c0c0"/><rect x="1094" y="702" width="1" height="19" fill="#c0c0c0"/><rect x="1098" y="702" width="1" height="20" fill="#c0c0c0"/><rect x="1102" y="702" width="1" height="20" fill="#c0c0c0"/><rect x="1106" y="702" width="1" height="22" fill="#c0c0c0"/><rect x="1110" y="702" width="1" height="22" fill="#c0c0c0"/><rect x="1114" y="702" width="1" height="19" fill="#c0c0c0"/><rect x="1118" y="702" width="1" height="14" fill="#c0c0c0"/><rect x="1122" y="702" width="1" height="12" fill="#c0c0c0"/><rect x="1126" y="702" width="1" height="9" fill="#c0c0c0"/><rect x="1130" y="702" width="1" height="6" fill="#c0c0c0"/><rect x="1134" y="702" width="1" height="4" fill="#c0c0c0"/><rect x="1138" y="702" width="1" height="4" fill="#c0c0c0"/><rect x="1142" y="702" width="1" height="3" fill="#c0c0c0"/><rect x="1146" y="701" width="1" height="2" fill="#c0c0c0"/><rect x="1150" y="699" width="1" height="4" fill="#c0c0c0"/><rect x="1154" y="698" width="1" height="5" fill="#c0c0c0"/><rect x="1158" y="697" width="1" height="6" fill="#c0c0c0"/><rect x="1162" y="697" width="1" height="6" fill="#c0c0c0"/><rect x="1166" y="697" width="1" height="6" fill="#c0c0c0"/><rect x="1170" y="692" width="1" height="11" fill="#c0c0c0"/><rect x="1174" y="690" width="1" height="13" fill="#c0c0c0"/><rect x="1178" y="684" width="1" height="19" fill="#c0c0c0"/><rect x="1182" y="683" width="1" height="20" fill="#c0c0c0"/><rect x="1186" y="683" width="1" height="20" fill="#c0c0c0"/><rect x="1190" y="685" width="1" height="18" fill="#c0c0c0"/><rect x="1194" y="686" width="1" height="17" fill="#c0c0c0"/><rect x="1198" y="687" width="1" height="16" fill="#c0c0c0"/><rect x="1202" y="688" width="1" height="15" fill="#c0c0c0"/><rect x="1206" y="689" width="1" height="14" fill="#c0c0c0"/><rect x="1210" y="689" width="1" height="14" fill="#c0c0c0"/><rect x="1214" y="689" width="1" height="14" fill="#c0c0c0"/><rect x="1218" y="689" width="1" height="14" fill="#c0c0c0"/><rect x="1222" y="690" width="1" height="13" fill="#c0c0c0"/><rect x="1226" y="691" width="1" height="12" fill="#c0c0c0"/><rect x="1230" y="690" width="1" height="13" fill="#c0c0c0"/><rect x="1234" y="689" width="1" height="14" fill="#c0c0c0"/><rect x="1238" y="686" width="1" height="17" fill="#c0c0c0"/><rect x="1242" y="685" width="1" height="18" fill="#c0c0c0"/><rect x="1246" y="685" width="1" height="18" fill="#c0c0c0"/><rect x="1250" y="681" width="1" height="22" fill="#c0c0c0"/><rect x="1254" y="678" width="1" height="25" fill="#c0c0c0"/><polyline points="2.5,662.4 6.5,661.1 10.5,661.0 14.5,661.6 18.5,662.8 22.5,664.0 26.5,665.4 30.5,666.9 34.5,669.0 38.5,671.1 42.5,673.9 46.5,676.8 50.5,680.1 54.5,683.3 58.5,686.7 62.5,689.9 66.5,692.8 70.5,694.9 74.5,696.6 78.5,697.7 82.5,698.0 86.5,697.7 90.5,697.2 94.5,696.5 98.5,695.8 102.5,695.2 106.5,694.7 110.5,694.5 114.5,694.5 118.5,694.3 122.5,693.8 126.5,693.0 130.5,692.2 134.5,691.3 138.5,690.8 142.5,690.4 146.5,690.0 150.5,689.5 154.5,689.7 158.5,690.2 162.5,691.0 166.5,691.5 170.5,692.1 174.5,692.3 178.5,692.4 182.5,692.6 186.5,692.6 190.5,692.2 194.5,691.6 198.5,691.1 202.5,690.6 206.5,689.8 210.5,688.9 214.5,687.8 218.5,686.6 222.5,685.8 226.5,685.7 230.5,686.1 234.5,687.0 238.5,688.6 242.5,691.2 246.5,694.4 250.5,697.9 254.5,701.8 258.5,705.5 262.5,708.7 266.5,711.5 270.5,713.9 274.5,715.5 278.5,716.5 282.5,716.9 286.5,717.1 290.5,716.8 294.5,716.6 298.5,716.5 302.5,716.3 306.5,716.0 310.5,715.6 314.5,715.1 318.5,714.6 322.5,714.1 326.5,713.7 330.5,713.2 334.5,712.5 338.5,711.9 342.5,712.0 346.5,712.7 350.5,714.0 354.5,715.8 358.5,717.6 362.5,719.4 366.5,721.4 370.5,723.4 374.5,725.5 378.5,727.3 382.5,728.5 386.5,729.4 390.5,729.8 394.5,730.1 398.5,730.1 402.5,729.8 406.5,729.0 410.5,727.7 414.5,726.3 418.5,724.8 422.5,723.2 426.5,721.5 430.5,719.9 434.5,718.6 438.5,717.6 442.5,717.2 446.5,717.5 450.5,718.2 454.5,718.9 458.5,719.7 462.5,720.6 466.5,721.6 470.5,722.6 474.5,723.6 478.5,724.5 482.5,724.8 486.5,725.0 490.5,725.5 494.5,726.2 498.5,727.1 502.5,727.6 506.5,727.9 510.5,728.2 514.5,728.5 518.5,729.0 522.5,729.6 526.5,730.3 530.5,731.1 534.5,731.9 538.5,733.2 542.5,734.8 546.5,736.3 550.5,737.8 554.5,739.0 558.5,740.1 562.5,740.6 566.5,740.9 570.5,740.8 574.5,740.2 578.5,739.3 582.5,738.7 586.5,738.4 590.5,738.6 594.5,739.0 598.5,739.8 602.5,740.6 606.5,741.0 610.5,741.4 614.5,741.5 618.5,740.8 622.5,739.3 626.5,737.0 630.5,734.3 634.5,731.2 638.5,728.4 642.5,726.6 646.5,725.1 650.5,724.4 654.5,724.8 658.5,725.7 662.5,727.3 666.5,728.9 670.5,731.4 674.5,734.0 678.5,735.7 682.5,736.8 686.5,737.8 690.5,738.1 694.5,738.5 698.5,738.7 702.5,739.1 706.5,739.2 710.5,739.4 714.5,739.9 718.5,740.6 722.5,741.1 726.5,741.3 730.5,740.8 734.5,739.6 738.5,737.8 742.5,735.7 746.5,733.1 750.5,730.4 754.5,728.0 758.5,726.0 762.5,725.1 766.5,725.4 770.5,726.8 774.5,728.6 778.5,730.6 782.5,732.6 786.5,734.7 790.5,736.7 794.5,738.3 798.5,739.5 802.5,740.5 806.5,741.1 810.5,741.6 814.5,742.1 818.5,742.8 822.5,743.0 826.5,742.9 830.5,742.7 834.5,742.1 838.5,741.1 842.5,739.6 846.5,738.1 850.5,736.4 854.5,734.7 858.5,733.6 862.5,733.1 866.5,733.0 870.5,733.1 874.5,733.3 878.5,733.6 882.5,733.9 886.5,734.0 890.5,733.8 894.5,733.3 898.5,732.5 902.5,731.5 906.5,730.4 910.5,729.2 914.5,728.0 918.5,726.9 922.5,725.7 926.5,724.5 930.5,723.6 934.5,722.6 938.5,721.4 942.5,720.2 946.5,719.2 950.5,718.4 954.5,718.1 958.5,718.0 962.5,718.6 966.5,719.7 970.5,721.0 974.5,722.5 978.5,724.1 982.5,725.6 986.5,726.6 990.5,727.5 994.5,728.4 998.5,728.5 1002.5,727.9 1006.5,726.8 1010.5,725.4 1014.5,723.8 1018.5,722.4 1022.5,721.2 1026.5,719.6 1030.5,717.9 1034.5,716.1 1038.5,714.7 1042.5,713.4 1046.5,712.5 1050.5,712.0 1054.5,711.6 1058.5,711.1 1062.5,711.0 1066.5,711.1 1070.5,711.2 1074.5,711.3 1078.5,711.7 1082.5,712.2 1086.5,712.7 1090.5,713.3 1094.5,714.2 1098.5,715.1 1102.5,716.2 1106.5,717.7 1110.5,719.0 1114.5,720.0 1118.5,720.3 1122.5,719.9 1126.5,719.0 1130.5,717.6 1134.5,715.9 1138.5,714.0 1142.5,711.8 1146.5,709.4 1150.5,707.0 1154.5,705.1 1158.5,703.4 1162.5,701.9 1166.5,700.8 1170.5,699.4 1174.5,697.7 1178.5,695.5 1182.5,693.5 1186.5,691.8 1190.5,690.4 1194.5,689.2 1198.5,688.1 1202.5,687.1 1206.5,686.7 1210.5,686.6 1214.5,687.2 1218.5,687.8 1222.5,688.5 1226.5,689.1 1230.5,689.6 1234.5,689.8 1238.5,689.7 1242.5,689.3 1246.5,688.8 1250.5,687.9 1254.5,686.6" fill="none" stroke="#ff0000" stroke-width="1" stroke-dasharray="3 3"/></g>
<rect x="0" y="0" width="1621" height="24" fill="#f0f0f0"/><rect x="0" y="24" width="1621" height="1" fill="#a0a0a0"/><rect x="0" y="25" width="1621" height="1" fill="#696969"/><rect x="26" y="0" width="1" height="24" fill="#a0a0a0"/><rect x="27" y="0" width="1" height="24" fill="#ffffff"/><rect x="287" y="0" width="1" height="24" fill="#a0a0a0"/><rect x="288" y="0" width="1" height="24" fill="#ffffff"/><rect x="30" y="2" width="3" height="1" fill="#a8a8a8"/><rect x="30" y="4" width="3" height="1" fill="#a8a8a8"/><rect x="30" y="6" width="3" height="1" fill="#a8a8a8"/><rect x="30" y="8" width="3" height="1" fill="#a8a8a8"/><rect x="30" y="10" width="3" height="1" fill="#a8a8a8"/><rect x="30" y="12" width="3" height="1" fill="#a8a8a8"/><rect x="30" y="14" width="3" height="1" fill="#a8a8a8"/><rect x="30" y="16" width="3" height="1" fill="#a8a8a8"/><rect x="30" y="18" width="3" height="1" fill="#a8a8a8"/><rect x="30" y="20" width="3" height="1" fill="#a8a8a8"/><rect x="205" y="1" width="24" height="21" fill="url(#dt)"/><rect x="204" y="0" width="25" height="1" fill="#a0a0a0"/><rect x="204" y="0" width="1" height="22" fill="#a0a0a0"/><rect x="229" y="0" width="1" height="23" fill="#ffffff"/><rect x="204" y="22" width="26" height="1" fill="#ffffff"/><path d="M0,9 L3,11.5 L2,12.8 L0,11.2 Z" fill="#555" shape-rendering="auto"/><path d="M0.8,15.6 L4.5,13.8 L8.2,15.6 L4.5,19 Z" fill="#555" shape-rendering="auto"/><path d="M14.5,11 L20.5,11 L17.5,14.5 Z" fill="#000"/><rect x="1" y="28" width="1578" height="1" fill="#000000"/><rect x="1" y="28" width="1" height="724" fill="#000000"/><rect x="1578" y="28" width="1" height="724" fill="#000000"/><rect x="1" y="555" width="1578" height="1" fill="#000000"/><rect x="1" y="557" width="1578" height="1" fill="#000000"/><rect x="1" y="653" width="1578" height="1" fill="#000000"/><rect x="1" y="655" width="1578" height="1" fill="#000000"/><rect x="1" y="751" width="1578" height="1" fill="#000000"/><rect x="0" y="556" width="1580" height="1" fill="#ffffff"/><rect x="0" y="654" width="1580" height="1" fill="#ffffff"/><path d="M1256.5,29 L1266.5,29 L1261.5,34 Z" fill="#c0c0c0"/><path d="M5,35 L12,35 L8.5,39 Z" fill="#000"/><rect x="2" y="752" width="1" height="3" fill="#000000"/><rect x="66" y="752" width="1" height="3" fill="#000000"/><rect x="130" y="752" width="1" height="3" fill="#000000"/><rect x="194" y="752" width="1" height="3" fill="#000000"/><rect x="258" y="752" width="1" height="3" fill="#000000"/><rect x="322" y="752" width="1" height="3" fill="#000000"/><rect x="386" y="752" width="1" height="3" fill="#000000"/><rect x="450" y="752" width="1" height="3" fill="#000000"/><rect x="514" y="752" width="1" height="3" fill="#000000"/><rect x="578" y="752" width="1" height="3" fill="#000000"/><rect x="642" y="752" width="1" height="3" fill="#000000"/><rect x="706" y="752" width="1" height="3" fill="#000000"/><rect x="770" y="752" width="1" height="3" fill="#000000"/><rect x="834" y="752" width="1" height="3" fill="#000000"/><rect x="898" y="752" width="1" height="3" fill="#000000"/><rect x="962" y="752" width="1" height="3" fill="#000000"/><rect x="1026" y="752" width="1" height="3" fill="#000000"/><rect x="1090" y="752" width="1" height="3" fill="#000000"/><rect x="1154" y="752" width="1" height="3" fill="#000000"/><rect x="1218" y="752" width="1" height="3" fill="#000000"/><rect x="0" y="772" width="1621" height="1" fill="#e8e8e8"/><rect x="0" y="774" width="1621" height="1" fill="#000000"/><rect x="0" y="775" width="1621" height="19" fill="#f0f0f0"/><rect x="0" y="794" width="1621" height="1" fill="#ffffff"/><rect x="0" y="795" width="1621" height="2" fill="#f0f0f0"/><rect x="0" y="797" width="1621" height="1" fill="#c4c4c4"/><rect x="0" y="798" width="1621" height="1" fill="#a0a0a0"/><rect x="414" y="775" width="1" height="18" fill="#ffffff"/><rect x="415" y="774" width="104" height="19" fill="#000000"/><rect x="416" y="773" width="102" height="19" fill="#ffffff"/><rect x="519" y="776" width="1" height="18" fill="#c0c0c0"/><rect x="417" y="793" width="103" height="1" fill="#b8b8b8"/><path d="M1597.3,779.8 L1597.3,786.2 L1593.8,783 Z" fill="#a0a0a0" shape-rendering="auto"/><path d="M1612.6,779 L1612.6,787 L1616.8,783 Z" fill="#000" shape-rendering="auto"/><rect x="1579" y="56" width="2" height="1" fill="#000000"/><rect x="1579" y="90" width="2" height="1" fill="#000000"/><rect x="1579" y="123" width="2" height="1" fill="#000000"/><rect x="1579" y="156" width="2" height="1" fill="#000000"/><rect x="1579" y="189" width="2" height="1" fill="#000000"/><rect x="1579" y="221" width="2" height="1" fill="#000000"/><rect x="1579" y="255" width="2" height="1" fill="#000000"/><rect x="1579" y="288" width="2" height="1" fill="#000000"/><rect x="1579" y="354" width="2" height="1" fill="#000000"/><rect x="1579" y="386" width="2" height="1" fill="#000000"/><rect x="1579" y="420" width="2" height="1" fill="#000000"/><rect x="1579" y="453" width="2" height="1" fill="#000000"/><rect x="1579" y="486" width="2" height="1" fill="#000000"/><rect x="1579" y="519" width="2" height="1" fill="#000000"/><rect x="1579" y="552" width="2" height="1" fill="#000000"/><rect x="1579" y="321" width="1" height="1" fill="#000000"/><rect x="1579" y="559" width="1" height="1" fill="#000000"/><rect x="1579" y="652" width="1" height="1" fill="#000000"/><rect x="1579" y="657" width="1" height="1" fill="#000000"/><rect x="1579" y="702" width="1" height="1" fill="#000000"/><rect x="1579" y="749" width="1" height="1" fill="#000000"/><rect x="107" y="777" width="1" height="14" fill="#505050"/><rect x="207" y="777" width="1" height="14" fill="#505050"/><rect x="311" y="777" width="1" height="14" fill="#505050"/><rect x="623" y="777" width="1" height="14" fill="#505050"/><rect x="727" y="777" width="1" height="14" fill="#505050"/><rect x="831" y="777" width="1" height="14" fill="#505050"/><rect x="915" y="777" width="1" height="14" fill="#505050"/><rect x="995" y="777" width="1" height="14" fill="#505050"/><rect x="1075" y="777" width="1" height="14" fill="#505050"/><rect x="1155" y="777" width="1" height="14" fill="#505050"/><rect x="1231" y="777" width="1" height="14" fill="#505050"/><rect x="1303" y="777" width="1" height="14" fill="#505050"/><rect x="1387" y="777" width="1" height="14" fill="#505050"/><rect x="1483" y="777" width="1" height="14" fill="#505050"/><rect x="1583" y="777" width="1" height="14" fill="#505050"/>
<rect x="1580" y="168" width="41" height="11" fill="#ff0000"/><rect x="1580" y="236" width="41" height="11" fill="#ff0000"/><rect x="1580" y="314" width="41" height="11" fill="#ff0000"/><rect x="1580" y="397" width="41" height="11" fill="#ff0000"/><rect x="1" y="400" width="6" height="6" fill="#ff0000"/><rect x="3" y="402" width="2" height="2" fill="#ffffff"/><rect x="1572" y="400" width="6" height="6" fill="#ff0000"/><rect x="1574" y="402" width="2" height="2" fill="#ffffff"/><rect x="1580" y="462" width="41" height="11" fill="#00ff00"/><rect x="1" y="465" width="6" height="6" fill="#00ff00"/><rect x="3" y="467" width="2" height="2" fill="#ffffff"/><rect x="1572" y="465" width="6" height="6" fill="#00ff00"/><rect x="1574" y="467" width="2" height="2" fill="#ffffff"/><rect x="1580" y="536" width="41" height="11" fill="#0000ff"/><rect x="1" y="539" width="6" height="6" fill="#0000ff"/><rect x="3" y="541" width="2" height="2" fill="#ffffff"/><rect x="1572" y="539" width="6" height="6" fill="#0000ff"/><rect x="1574" y="541" width="2" height="2" fill="#ffffff"/><rect x="1580" y="427" width="41" height="11" fill="#000000"/>
</svg>
<div id="t0" class="ax" style="left:1584.0px;top:51px;transform:scaleX(0.9429) skewX(0.05deg);">7.19110</div><div id="t1" class="ax" style="left:1584.0px;top:85px;transform:scaleX(0.9167) skewX(0.05deg);">7.13670</div><div id="t2" class="ax" style="left:1584.0px;top:118px;transform:scaleX(0.9167) skewX(0.05deg);">7.08230</div><div id="t3" class="ax" style="left:1584.0px;top:151px;transform:scaleX(0.9167) skewX(0.05deg);">7.02950</div><div id="t4" class="ax" style="left:1584.0px;top:184px;transform:scaleX(0.9167) skewX(0.05deg);">6.97510</div><div id="t5" class="ax" style="left:1584.0px;top:216px;transform:scaleX(0.9167) skewX(0.05deg);">6.92230</div><div id="t6" class="ax" style="left:1584.0px;top:250px;transform:scaleX(0.9167) skewX(0.05deg);">6.86790</div><div id="t7" class="ax" style="left:1584.0px;top:283px;transform:scaleX(0.9167) skewX(0.05deg);">6.81350</div><div id="t8" class="ax" style="left:1584.0px;top:349px;transform:scaleX(0.9167) skewX(0.05deg);">6.70630</div><div id="t9" class="ax" style="left:1584.0px;top:381px;transform:scaleX(0.9167) skewX(0.05deg);">6.65350</div><div id="t10" class="ax" style="left:1584.0px;top:415px;transform:scaleX(0.9167) skewX(0.05deg);">6.59910</div><div id="t11" class="ax" style="left:1584.0px;top:448px;transform:scaleX(0.9167) skewX(0.05deg);">6.54470</div><div id="t12" class="ax" style="left:1584.0px;top:481px;transform:scaleX(0.9167) skewX(0.05deg);">6.49190</div><div id="t13" class="ax" style="left:1584.0px;top:514px;transform:scaleX(0.9167) skewX(0.05deg);">6.43750</div><div id="t14" class="ax" style="left:1584.0px;top:547px;transform:scaleX(0.9167) skewX(0.05deg);">6.38470</div><div id="t15" class="ax" style="left:1582.5px;top:559px;transform:scaleX(0.8529) skewX(0.05deg);">100</div><div id="t16" class="ax" style="left:1581.6px;top:582px;transform:scaleX(0.8364) skewX(0.05deg);">70</div><div id="t17" class="ax" style="left:1581.6px;top:619px;transform:scaleX(0.8364) skewX(0.05deg);">30</div><div id="t18" class="ax" style="left:1582.5px;top:641px;transform:scaleX(0.7500) skewX(0.05deg);">0</div><div id="t19" class="ax" style="left:1582.5px;top:657px;transform:scaleX(0.8951) skewX(0.05deg);">0.038638</div><div id="t20" class="ax" style="left:1582.5px;top:697px;transform:scaleX(0.9105) skewX(0.05deg);">0.00</div><div id="t21" class="ax" style="left:1582.5px;top:740px;transform:scaleX(0.9318) skewX(0.05deg);">-0.041307</div><div id="t22" class="ax" style="left:1584.0px;top:168px;transform:scaleX(0.9429) skewX(0.05deg);color:#fff">7.00029</div><div id="t23" class="ax" style="left:1584.0px;top:236px;transform:scaleX(0.9429) skewX(0.05deg);color:#fff">6.88897</div><div id="t24" class="ax" style="left:1584.0px;top:314px;transform:scaleX(0.9429) skewX(0.05deg);color:#fff">6.76157</div><div id="t25" class="ax" style="left:1584.0px;top:397px;transform:scaleX(0.9429) skewX(0.05deg);color:#fff">6.62709</div><div id="t26" class="ax" style="left:1584.0px;top:462px;transform:scaleX(0.9429) skewX(0.05deg);color:#fff">6.52138</div><div id="t27" class="ax" style="left:1584.0px;top:536px;transform:scaleX(0.9429) skewX(0.05deg);color:#fff">6.40104</div><div id="t28" class="ax" style="left:1584.0px;top:427px;transform:scaleX(0.9429) skewX(0.05deg);color:#fff">6.57986</div><div id="t29" class="ttl" style="left:17.4px;top:32px;transform:scaleX(0.9731) skewX(0.05deg);">USDCNH,Daily</div><div id="t30" class="ttl" style="left:89.3px;top:32px;transform:scaleX(0.9347) skewX(0.05deg);">6.57295 6.58134 6.56969 6.57986</div><div id="t31" class="ttl" style="left:6.4px;top:562px;transform:scaleX(0.9389) skewX(0.05deg);">RSI(14) 71.2574</div><div id="t32" class="ttl" style="left:6.7px;top:660px;transform:scaleX(0.9503) skewX(0.05deg);">MACD(12,26,9) 0.020843 0.013607</div><div id="t33" class="ax" style="left:1.7px;top:755px;transform:scaleX(0.9255) skewX(0.05deg);">28 Mar 2020</div><div id="t34" class="ax" style="left:65.6px;top:755px;transform:scaleX(0.9509) skewX(0.05deg);">16 Apr 2020</div><div id="t35" class="ax" style="left:129.2px;top:755px;transform:scaleX(0.9804) skewX(0.05deg);">5 May 2020</div><div id="t36" class="ax" style="left:193.2px;top:755px;transform:scaleX(0.9526) skewX(0.05deg);">23 May 2020</div><div id="t37" class="ax" style="left:258.0px;top:755px;transform:scaleX(0.9151) skewX(0.05deg);">11 Jun 2020</div><div id="t38" class="ax" style="left:321.4px;top:755px;transform:scaleX(0.9130) skewX(0.05deg);">30 Jun 2020</div><div id="t39" class="ax" style="left:386.4px;top:755px;transform:scaleX(0.8882) skewX(0.05deg);">18 Jul 2020</div><div id="t40" class="ax" style="left:449.7px;top:755px;transform:scaleX(0.9460) skewX(0.05deg);">6 Aug 2020</div><div id="t41" class="ax" style="left:514.7px;top:755px;transform:scaleX(0.9327) skewX(0.05deg);">25 Aug 2020</div><div id="t42" class="ax" style="left:577.3px;top:755px;transform:scaleX(0.9286) skewX(0.05deg);">12 Sep 2020</div><div id="t43" class="ax" style="left:641.6px;top:755px;transform:scaleX(0.9500) skewX(0.05deg);">1 Oct 2020</div><div id="t44" class="ax" style="left:705.6px;top:755px;transform:scaleX(0.9426) skewX(0.05deg);">20 Oct 2020</div><div id="t45" class="ax" style="left:769.8px;top:755px;transform:scaleX(0.9680) skewX(0.05deg);">7 Nov 2020</div><div id="t46" class="ax" style="left:833.1px;top:755px;transform:scaleX(0.9643) skewX(0.05deg);">26 Nov 2020</div><div id="t47" class="ax" style="left:898.1px;top:755px;transform:scaleX(0.9107) skewX(0.05deg);">15 Dec 2020</div><div id="t48" class="ax" style="left:962.4px;top:755px;transform:scaleX(0.8958) skewX(0.05deg);">4 Jan 2021</div><div id="t49" class="ax" style="left:1025.7px;top:755px;transform:scaleX(0.9056) skewX(0.05deg);">22 Jan 2021</div><div id="t50" class="ax" style="left:1089.3px;top:755px;transform:scaleX(0.9345) skewX(0.05deg);">10 Feb 2021</div><div id="t51" class="ax" style="left:1154.1px;top:755px;transform:scaleX(0.9265) skewX(0.05deg);">1 Mar 2021</div><div id="t52" class="ax" style="left:1217.8px;top:755px;transform:scaleX(0.9236) skewX(0.05deg);">19 Mar 2021</div><div id="t53" class="tb" style="left:41.7px;top:7px;transform:scaleX(0.8929) skewX(0.05deg);">M1</div><div id="t54" class="tb" style="left:69.9px;top:7px;transform:scaleX(0.8643) skewX(0.05deg);">M5</div><div id="t55" class="tb" style="left:95.8px;top:7px;transform:scaleX(0.9053) skewX(0.05deg);">M15</div><div id="t56" class="tb" style="left:124.0px;top:7px;transform:scaleX(0.9053) skewX(0.05deg);">M30</div><div id="t57" class="tb" style="left:154.0px;top:7px;transform:scaleX(1.0000) skewX(0.05deg);">H1</div><div id="t58" class="tb" style="left:181.3px;top:7px;transform:scaleX(1.0417) skewX(0.05deg);">H4</div><div id="t59" class="tb" style="left:210.7px;top:7px;transform:scaleX(0.9583) skewX(0.05deg);">D1</div><div id="t60" class="tb" style="left:238.1px;top:7px;transform:scaleX(0.9400) skewX(0.05deg);">W1</div><div id="t61" class="tb" style="left:264.8px;top:7px;transform:scaleX(0.9667) skewX(0.05deg);">MN</div><div id="t62" class="tab" style="left:15.21px;top:778px;transform:scaleX(0.9925) skewX(0.05deg);">EURUSD,Daily</div><div id="t63" class="tab" style="left:116.79px;top:778px;transform:scaleX(1.0090) skewX(0.05deg);">USDCHF,Daily</div><div id="t64" class="tab" style="left:218.3px;top:778px;transform:scaleX(1.0123) skewX(0.05deg);">AUDUSD,Daily</div><div id="t65" class="tab" style="left:322.3px;top:778px;transform:scaleX(1.0025) skewX(0.05deg);">USDCAD,Daily</div><div id="t66" class="tab act" style="left:424.57px;top:778px;transform:scaleX(1.0300) skewX(0.05deg);">USDCNH,Daily</div><div id="t67" class="tab" style="left:530.4px;top:778px;transform:scaleX(0.9987) skewX(0.05deg);">EURUSD,Daily</div><div id="t68" class="tab" style="left:635.3px;top:778px;transform:scaleX(0.9877) skewX(0.05deg);">GBPUSD,Daily</div><div id="t69" class="tab" style="left:738.0px;top:778px;transform:scaleX(1.0125) skewX(0.05deg);">XAUUSD,Daily</div><div id="t70" class="tab" style="left:842.95px;top:778px;transform:scaleX(1.0536) skewX(0.05deg);">HK50,M15</div><div id="t71" class="tab" style="left:926.17px;top:778px;transform:scaleX(1.0333) skewX(0.05deg);">UK100,H1</div><div id="t72" class="tab" style="left:1005.97px;top:778px;transform:scaleX(1.0296) skewX(0.05deg);">UK100,H1</div><div id="t73" class="tab" style="left:1086.3px;top:778px;transform:scaleX(0.9776) skewX(0.05deg);">GER30,H1</div><div id="t74" class="tab" style="left:1165.02px;top:778px;transform:scaleX(0.9818) skewX(0.05deg);">FRA40,H1</div><div id="t75" class="tab" style="left:1240.97px;top:778px;transform:scaleX(1.0265) skewX(0.05deg);">USOil,H1</div><div id="t76" class="tab" style="left:1313.02px;top:778px;transform:scaleX(0.9841) skewX(0.05deg);">USDJPY,H1</div><div id="t77" class="tab" style="left:1397.96px;top:778px;transform:scaleX(1.0357) skewX(0.05deg);">DJ30,Weekly</div><div id="t78" class="tab" style="left:1493.3px;top:778px;transform:scaleX(1.0303) skewX(0.05deg);">CHINA300,H1</div>
</div></body></html>
